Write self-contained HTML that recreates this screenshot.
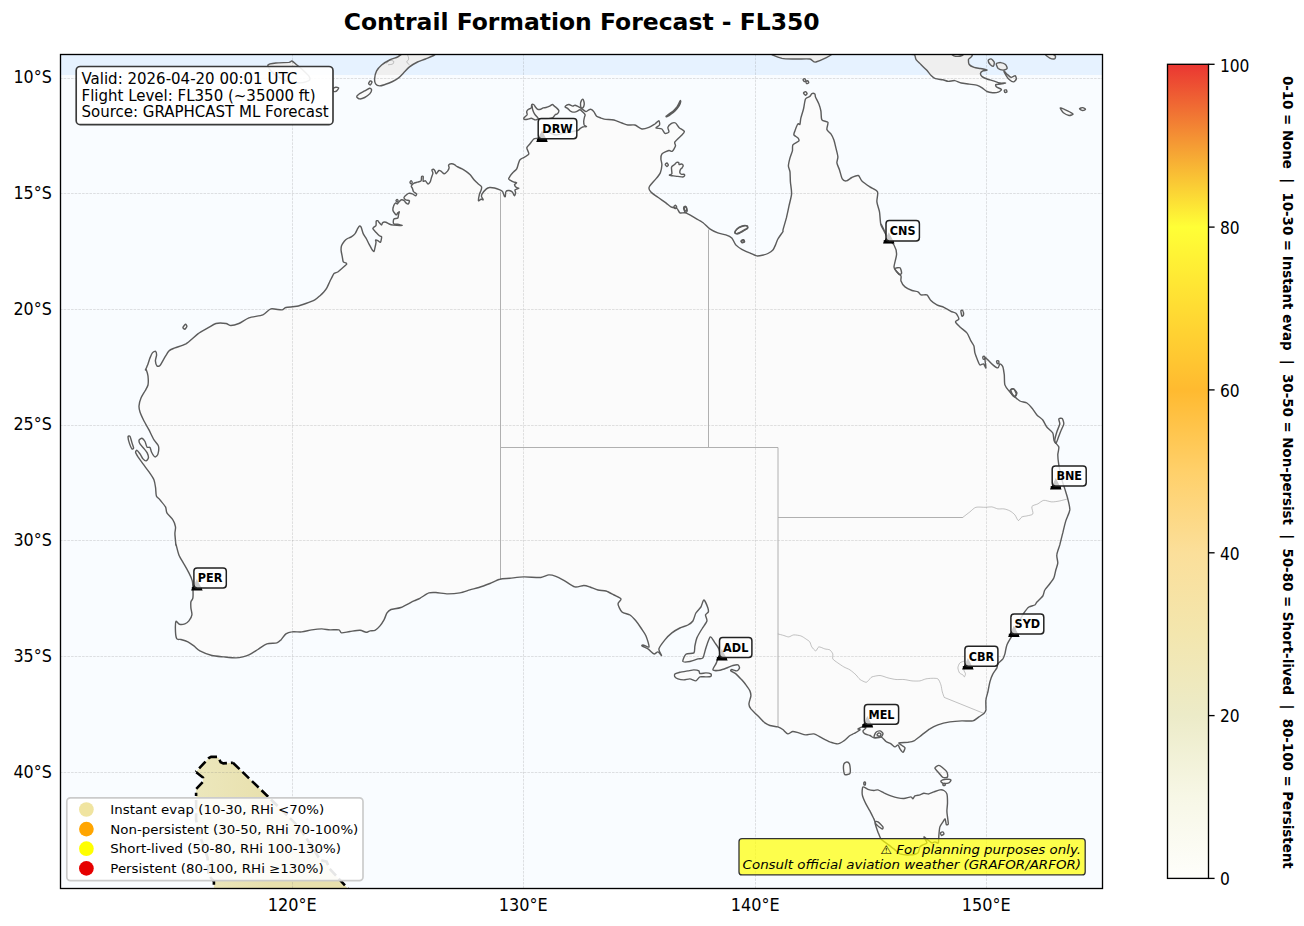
<!DOCTYPE html>
<html><head><meta charset="utf-8"><title>Contrail Formation Forecast - FL350</title>
<style>
html,body{margin:0;padding:0;background:#fff;}
body{width:1304px;height:926px;overflow:hidden;}
svg{display:block;}
text{font-family:"DejaVu Sans","Liberation Sans",sans-serif;fill:#000;}
</style></head><body>
<svg width="1304" height="926" viewBox="0 0 1304 926">
<defs>
<clipPath id="ax"><rect x="60.5" y="54.5" width="1042.0" height="834.0"/></clipPath>
<linearGradient id="cb" x1="0" y1="1" x2="0" y2="0">
<stop offset="0" stop-color="#fefefb"/>
<stop offset="0.10" stop-color="#f7f7e6"/>
<stop offset="0.20" stop-color="#ecebc8"/>
<stop offset="0.30" stop-color="#f3e6ae"/>
<stop offset="0.40" stop-color="#fbdf9a"/>
<stop offset="0.50" stop-color="#ffd06a"/>
<stop offset="0.60" stop-color="#ffba30"/>
<stop offset="0.70" stop-color="#ffdc33"/>
<stop offset="0.80" stop-color="#ffff36"/>
<stop offset="0.90" stop-color="#f59c34"/>
<stop offset="1" stop-color="#ea3632"/>
</linearGradient>
<linearGradient id="bg" gradientUnits="userSpaceOnUse" x1="196" y1="0" x2="270" y2="0">
<stop offset="0" stop-color="#ece7bc"/>
<stop offset="1" stop-color="#e8e0ad"/>
</linearGradient>
</defs>
<rect width="1304" height="926" fill="#fff"/>

<text x="581.7" y="29.9" font-size="23.48" font-weight="bold" text-anchor="middle">Contrail Formation Forecast - FL350</text>
<g clip-path="url(#ax)">
<rect x="60" y="54" width="1043" height="835" fill="#e6f2ff"/>
<path d="M374.6 78.9C374.7 77.3 375.7 72.6 376.6 70.9C377.5 69.2 380.0 66.4 381.6 65.0C383.2 63.6 387.6 61.0 389.6 60.0C391.6 59.0 395.7 57.8 397.6 57.0C399.5 56.2 399.8 54.0 404.5 53.6C409.2 53.2 432.8 52.9 435.4 53.6C438.0 54.3 427.7 58.0 425.5 59.0C423.3 60.0 419.5 61.0 417.5 62.0C415.5 63.0 411.2 65.5 409.5 66.9C407.8 68.3 404.9 71.5 403.5 72.9C402.1 74.3 400.0 76.8 398.6 77.9C397.2 79.0 394.2 80.7 392.6 81.5C391.0 82.3 387.2 83.8 385.6 84.3C384.0 84.8 380.9 86.0 379.6 85.9C378.4 85.9 376.2 84.8 375.6 83.9C375.0 83.0 374.5 80.5 374.6 78.9Z" fill="#efefef" stroke="none"/>
<path d="M356.7 96.9C356.6 96.3 357.7 95.0 358.7 94.3C359.7 93.5 363.3 91.7 364.7 90.9C366.1 90.2 368.7 88.4 369.6 88.3C370.5 88.2 371.6 89.2 371.6 89.9C371.6 90.6 370.5 93.0 369.6 93.9C368.7 94.9 365.9 96.9 364.7 97.5C363.5 98.1 360.7 99.0 359.7 98.9C358.7 98.8 356.8 97.5 356.7 96.9Z" fill="#efefef" stroke="none"/>
<path d="M368.6 83.5C368.6 83.0 369.8 81.1 370.2 80.9C370.6 80.7 372.0 81.4 372.0 81.9C372.0 82.4 370.8 84.7 370.4 84.9C370.0 85.1 368.6 84.0 368.6 83.5Z" fill="#efefef" stroke="none"/>
<path d="M267.9 65.0C268.4 63.9 273.3 63.3 275.9 63.0C278.5 62.7 286.9 62.6 288.9 62.4C290.9 62.1 290.9 60.7 291.9 61.0C292.9 61.3 295.5 63.9 296.9 65.0C298.3 66.1 301.3 68.5 302.8 69.9C304.3 71.3 307.9 74.7 308.8 75.9C309.7 77.2 310.2 79.2 309.8 79.9C309.4 80.7 307.0 81.5 305.8 81.9C304.6 82.3 301.9 82.9 299.9 82.9C297.9 82.9 292.4 82.5 289.9 81.9C287.4 81.3 282.1 79.2 279.9 77.9C277.6 76.7 273.4 73.5 271.9 71.9C270.4 70.3 267.4 66.1 267.9 65.0Z" fill="#efefef" stroke="none"/>
<path d="M332.8 88.9C333.1 88.4 335.0 87.4 335.7 87.3C336.4 87.2 338.6 87.5 338.7 87.9C338.8 88.4 337.3 90.5 336.7 90.9C336.1 91.4 334.2 91.8 333.7 91.5C333.2 91.2 332.6 89.4 332.8 88.9Z" fill="#efefef" stroke="none"/>
<path d="M773.0 53.0C766.9 53.7 779.1 57.6 782.0 58.4C784.9 59.1 792.4 58.9 795.9 59.0C799.4 59.1 807.4 58.6 809.9 59.0C812.4 59.4 813.3 62.8 815.9 62.0C818.5 61.2 836.3 54.1 830.9 53.0C825.5 51.9 779.1 52.3 773.0 53.0Z" fill="#efefef" stroke="none"/>
<path d="M909.7 54.0C902.9 54.1 913.7 54.1 914.5 54.8C915.3 55.5 915.3 58.5 916.1 59.7C916.9 60.9 919.6 63.2 920.9 64.5C922.2 65.8 925.3 68.7 926.6 70.1C927.9 71.5 930.3 74.7 931.4 75.8C932.5 76.9 934.0 78.2 935.4 78.7C936.8 79.2 941.1 79.5 942.7 79.8C944.3 80.1 946.8 81.3 948.3 81.4C949.8 81.5 953.2 80.4 954.8 80.6C956.4 80.8 959.4 82.6 961.2 83.0C963.0 83.4 967.2 83.8 969.2 84.1C971.2 84.4 975.7 84.9 977.3 85.4C978.9 85.9 980.9 87.0 982.1 87.8C983.3 88.6 985.7 90.9 987.0 91.5C988.3 92.1 991.2 92.6 992.6 92.7C994.0 92.8 997.1 92.6 998.2 92.2C999.3 91.8 1001.6 90.2 1001.4 89.5C1001.2 88.8 997.3 87.6 996.6 87.0C995.9 86.4 995.3 85.0 995.8 84.6C996.3 84.2 999.4 84.3 1000.6 84.1C1001.8 83.9 1005.6 83.1 1005.5 83.0C1005.4 82.9 1001.3 83.3 999.8 83.0C998.3 82.7 995.0 81.4 993.4 80.9C991.8 80.4 988.4 79.5 987.0 79.0C985.6 78.5 982.9 77.3 982.1 76.6C981.3 75.9 980.4 74.0 980.5 73.3C980.6 72.6 982.1 71.3 982.9 70.9C983.7 70.5 987.3 70.4 987.0 70.1C986.7 69.8 982.1 68.8 980.5 68.5C978.9 68.2 975.5 67.9 974.1 67.4C972.7 66.9 969.9 65.5 969.2 64.5C968.5 63.5 968.4 61.0 968.4 59.7C968.4 58.4 976.5 54.7 969.2 54.0C961.9 53.3 916.5 53.9 909.7 54.0Z" fill="#efefef" stroke="none"/>
<path d="M988.2 60.5C988.3 59.8 990.2 58.7 991.0 58.9C991.8 59.1 993.9 61.2 994.2 62.1C994.5 63.0 993.9 65.8 993.4 66.1C992.9 66.4 990.9 65.2 990.2 64.5C989.6 63.8 988.1 61.2 988.2 60.5Z" fill="#efefef" stroke="none"/>
<path d="M996.3 63.7C996.6 63.0 999.5 62.5 1000.6 62.6C1001.8 62.7 1004.7 63.8 1005.5 64.5C1006.3 65.2 1007.4 67.8 1007.1 68.5C1006.8 69.2 1004.2 70.1 1003.1 70.1C1002.0 70.1 999.1 69.3 998.2 68.5C997.4 67.7 996.0 64.4 996.3 63.7Z" fill="#efefef" stroke="none"/>
<path d="M1003.9 70.9C1004.0 70.7 1006.2 73.4 1007.1 74.2C1008.0 75.0 1010.1 77.2 1011.1 77.4C1012.1 77.6 1014.5 75.6 1015.1 75.8C1015.8 76.0 1016.5 78.2 1016.3 79.0C1016.1 79.8 1014.4 81.8 1013.5 81.9C1012.6 82.0 1010.4 80.6 1009.5 79.8C1008.6 79.0 1007.0 76.9 1006.3 75.8C1005.6 74.7 1003.8 71.1 1003.9 70.9Z" fill="#efefef" stroke="none"/>
<path d="M1004.3 90.3C1004.5 90.0 1006.0 89.7 1006.3 89.9C1006.6 90.1 1007.1 91.6 1006.9 91.9C1006.7 92.2 1005.3 92.7 1005.0 92.5C1004.7 92.3 1004.1 90.6 1004.3 90.3Z" fill="#efefef" stroke="none"/>
<path d="M1044.9 54.0C1044.6 54.5 1048.6 57.5 1049.8 58.1C1051.0 58.7 1053.9 59.1 1054.6 58.9C1055.3 58.6 1055.7 56.7 1055.4 56.1C1055.1 55.5 1053.5 54.3 1052.2 54.0C1050.9 53.7 1045.2 53.5 1044.9 54.0Z" fill="#efefef" stroke="none"/>
<path d="M1060.2 108.0C1060.3 107.6 1063.1 108.8 1064.3 109.3C1065.5 109.8 1068.8 111.4 1069.9 112.0C1071.0 112.6 1073.2 113.7 1073.1 114.1C1073.0 114.5 1070.3 115.7 1069.1 115.5C1067.9 115.3 1064.5 113.7 1063.4 112.8C1062.3 111.9 1060.1 108.4 1060.2 108.0Z" fill="#efefef" stroke="none"/>
<path d="M1079.5 108.8C1079.5 108.4 1082.0 107.5 1082.8 107.6C1083.5 107.7 1085.5 108.9 1085.5 109.3C1085.5 109.7 1083.5 110.6 1082.8 110.5C1082.0 110.4 1079.5 109.2 1079.5 108.8Z" fill="#efefef" stroke="none"/>
<path d="M952.3 54.0C951.1 54.2 953.2 55.5 953.9 55.8C954.6 56.1 957.0 56.4 958.0 56.4C959.0 56.4 961.4 55.8 962.0 55.5C962.6 55.2 964.3 54.2 963.1 54.0C961.9 53.8 953.4 53.8 952.3 54.0Z" fill="#efefef" stroke="none"/>
<path d="M175.9 545.1C175.8 543.8 175.0 536.2 174.9 533.9C174.8 531.6 175.8 528.6 175.5 526.9C175.2 525.1 174.0 521.6 172.9 519.9C171.8 518.1 167.8 514.5 166.9 512.9C166.0 511.3 166.4 508.5 165.5 506.9C164.6 505.3 161.1 501.3 160.0 499.9C158.9 498.5 157.0 497.4 156.4 495.9C155.8 494.4 155.9 489.9 155.6 487.9C155.3 485.9 154.8 481.9 154.0 479.9C153.2 477.9 150.4 473.9 149.0 471.9C147.6 469.9 144.4 465.8 143.0 463.9C141.6 462.0 138.9 458.3 138.0 456.9C137.1 455.4 135.7 453.1 135.6 452.3C135.5 451.5 136.4 450.1 137.0 450.3C137.6 450.5 139.2 452.8 140.0 453.9C140.8 455.0 142.2 458.0 143.0 458.9C143.8 459.8 145.3 461.0 146.0 460.9C146.7 460.8 148.2 458.9 148.4 457.9C148.6 456.9 147.7 454.0 147.2 452.9C146.7 451.8 145.3 450.2 144.4 449.1C143.5 448.0 140.7 445.0 140.0 443.9C139.3 442.8 138.9 440.6 139.2 439.9C139.4 439.2 141.3 438.1 142.0 438.3C142.7 438.5 144.4 440.4 145.0 441.5C145.6 442.6 146.4 446.4 147.0 447.1C147.6 447.9 149.4 446.9 150.0 447.5C150.6 448.1 151.0 451.1 151.6 452.3C152.2 453.5 154.2 456.7 155.0 456.9C155.8 457.1 157.6 455.3 158.0 453.9C158.4 452.5 158.9 447.6 158.4 445.9C157.9 444.1 155.2 441.9 154.0 439.9C152.8 437.9 150.2 432.3 149.0 429.9C147.8 427.5 145.1 423.2 144.0 421.0C142.9 418.8 140.6 413.9 140.0 412.0C139.4 410.1 138.9 407.8 139.0 406.0C139.1 404.2 140.2 399.9 141.0 398.0C141.8 396.1 144.1 392.6 145.0 391.0C145.9 389.4 147.6 386.9 148.0 385.0C148.4 383.1 148.2 378.0 148.0 376.0C147.8 374.0 146.3 369.8 146.0 369.0C145.7 368.2 145.3 370.5 145.6 369.9C145.8 369.3 147.4 365.4 148.0 363.9C148.6 362.4 149.4 359.3 150.0 357.9C150.6 356.5 151.7 353.7 152.4 352.9C153.1 352.1 155.1 351.1 155.6 351.3C156.1 351.6 156.6 353.7 156.6 354.9C156.6 356.1 155.3 359.5 155.4 360.9C155.5 362.3 156.4 365.3 157.0 365.9C157.6 366.5 159.1 366.4 160.0 365.5C160.9 364.6 162.8 360.7 163.9 358.9C165.0 357.1 167.5 352.3 168.9 350.9C170.3 349.5 172.8 348.8 174.9 347.9C177.0 347.0 183.0 345.6 185.9 343.9C188.8 342.1 195.2 335.9 197.9 333.9C200.7 331.9 205.7 329.2 207.9 327.9C210.2 326.6 213.7 324.1 215.9 323.5C218.2 322.9 224.0 323.2 225.9 323.5C227.8 323.8 229.3 325.5 230.9 325.5C232.5 325.5 236.7 324.4 238.9 323.5C241.2 322.6 245.9 319.0 248.9 317.9C251.9 316.8 260.1 316.0 262.9 314.9C265.6 313.8 268.5 309.5 270.9 308.9C273.3 308.3 280.0 310.1 281.9 309.9C283.8 309.7 284.0 307.9 285.9 307.5C287.8 307.1 294.3 306.8 296.8 306.3C299.3 305.8 303.6 304.3 305.8 303.5C308.1 302.7 313.0 300.9 314.8 299.9C316.6 298.9 318.9 296.7 320.0 295.7C321.1 294.7 322.9 293.0 323.8 292.0C324.7 291.0 326.3 288.9 327.0 287.6C327.7 286.3 329.1 283.0 329.7 281.7C330.3 280.4 331.4 278.4 331.9 277.4C332.4 276.4 333.3 274.3 334.0 273.6C334.7 272.9 336.9 272.6 337.8 272.0C338.8 271.4 340.5 269.6 341.6 268.7C342.7 267.8 346.0 265.1 346.5 264.4C347.0 263.7 346.1 263.1 345.7 262.8C345.3 262.5 343.6 262.6 343.2 261.7C342.8 260.8 342.4 257.2 342.1 255.8C341.8 254.4 341.2 251.7 341.1 250.4C341.0 249.1 341.2 246.7 341.6 245.5C342.0 244.3 343.6 242.1 344.3 241.2C345.0 240.3 346.6 239.0 347.5 238.5C348.4 238.0 350.4 237.5 351.3 236.9C352.2 236.3 354.4 234.5 355.1 233.6C355.9 232.7 356.8 230.2 357.3 229.3C357.8 228.4 358.9 226.4 359.4 226.1C359.9 225.8 360.6 226.2 361.1 227.1C361.6 228.0 362.5 232.1 363.2 233.6C363.9 235.1 365.8 237.7 366.5 239.0C367.2 240.3 368.5 243.1 369.2 244.4C369.9 245.7 371.3 248.4 371.9 249.3C372.5 250.2 373.6 251.8 374.0 251.5C374.4 251.2 374.9 248.2 375.1 247.1C375.4 245.9 375.9 243.2 376.0 242.3C376.1 241.4 375.4 240.3 375.6 240.1C375.8 239.9 377.2 240.3 377.8 240.6C378.4 240.9 380.0 242.8 380.5 242.3C381.0 241.8 381.7 237.7 381.6 236.9C381.5 236.1 380.1 236.4 379.4 235.8C378.7 235.2 377.0 233.4 376.2 232.5C375.4 231.6 373.2 229.5 372.9 228.8C372.6 228.1 373.6 227.5 374.0 227.1C374.4 226.7 375.7 226.2 376.0 225.5C376.3 224.8 376.0 221.8 376.2 221.2C376.4 220.6 377.4 220.5 377.8 220.7C378.2 220.9 378.9 222.3 379.4 222.8C379.9 223.3 381.2 225.0 381.6 225.0C382.0 225.0 382.2 222.9 382.7 222.6C383.2 222.2 385.1 222.0 385.9 222.2C386.7 222.4 388.2 223.6 389.2 224.0C390.1 224.4 391.9 224.9 393.5 225.1C395.1 225.3 401.6 225.5 402.1 225.4C402.6 225.3 398.4 224.5 397.3 224.3C396.2 224.1 393.9 224.2 393.5 223.5C393.1 222.8 393.3 219.8 393.8 219.1C394.3 218.4 397.2 218.7 397.8 218.1C398.4 217.5 398.4 215.1 398.6 214.3C398.8 213.5 399.5 212.0 399.4 211.8C399.3 211.6 398.2 212.3 397.8 212.7C397.4 213.1 396.8 215.1 396.2 214.8C395.6 214.5 393.3 211.6 393.0 210.5C392.7 209.4 393.2 207.1 393.5 206.2C393.8 205.2 395.2 203.2 395.7 202.9C396.2 202.6 396.9 204.1 397.3 204.0C397.7 203.9 398.4 202.4 398.9 201.9C399.4 201.4 400.9 199.8 401.6 199.7C402.3 199.6 403.8 200.4 404.3 200.8C404.8 201.2 405.4 202.5 405.9 202.9C406.4 203.3 407.9 204.3 408.3 204.0C408.7 203.7 409.7 201.3 409.4 200.8C409.1 200.3 406.6 200.3 405.9 199.9C405.2 199.5 403.9 198.1 404.0 197.5C404.1 196.9 405.9 195.3 406.5 194.8C407.1 194.3 407.9 193.5 408.6 193.4C409.3 193.3 411.5 193.5 412.4 193.8C413.3 194.1 415.1 195.9 415.6 195.9C416.1 195.9 416.8 194.3 416.5 193.8C416.2 193.3 414.0 192.3 413.5 191.6C413.0 190.9 412.7 189.0 412.4 188.3C412.1 187.6 411.2 186.8 411.3 186.2C411.4 185.6 412.8 184.0 413.5 183.5C414.2 183.0 416.4 182.5 417.3 182.2C418.2 181.9 420.6 181.5 421.1 180.8C421.6 180.1 421.3 177.0 421.6 176.5C421.9 176.0 423.0 175.9 423.2 176.5C423.4 177.1 422.9 180.8 423.2 181.3C423.5 181.8 424.8 180.5 425.4 180.8C426.0 181.1 427.5 183.9 428.1 184.0C428.7 184.1 429.8 182.6 430.2 181.9C430.6 181.2 431.0 179.2 431.3 178.1C431.6 177.0 432.8 174.2 432.9 173.2C433.0 172.2 431.8 170.5 431.9 170.0C432.0 169.5 433.1 169.1 433.5 169.2C433.9 169.3 434.8 170.5 435.1 171.1C435.4 171.7 435.7 173.9 436.2 173.8C436.7 173.7 438.3 170.8 438.9 170.5C439.5 170.2 440.3 170.7 441.0 171.1C441.7 171.5 443.5 173.8 444.3 173.8C445.1 173.8 446.9 171.8 447.5 171.1C448.1 170.3 449.0 168.6 449.1 167.8C449.2 167.1 448.3 165.6 448.6 165.1C448.9 164.6 450.6 163.9 451.3 163.8C452.0 163.7 453.8 164.2 454.5 164.6C455.2 165.0 456.2 166.2 457.2 166.7C458.1 167.2 461.0 168.3 462.1 168.9C463.2 169.5 465.4 170.9 466.4 171.6C467.4 172.3 469.2 173.8 470.2 174.8C471.1 175.8 473.1 178.6 474.0 179.7C474.9 180.8 476.9 182.6 477.8 183.5C478.7 184.4 481.1 185.8 481.5 186.7C481.9 187.6 481.3 189.6 481.0 190.5C480.7 191.4 479.7 193.0 479.4 194.3C479.1 195.6 478.3 200.2 478.5 200.8C478.7 201.4 480.4 199.3 481.0 199.2C481.6 199.1 483.1 200.0 483.2 199.7C483.3 199.4 481.6 197.2 481.5 196.5C481.4 195.8 481.5 194.8 482.1 193.8C482.7 192.9 485.5 189.7 486.4 188.9C487.3 188.1 488.6 187.6 489.6 187.5C490.6 187.4 493.2 187.7 494.5 188.0C495.8 188.3 498.9 189.4 499.9 189.8C500.9 190.2 502.1 190.8 502.6 191.6C503.1 192.4 503.9 195.3 504.2 195.9C504.5 196.5 505.1 197.0 505.3 196.5C505.5 196.0 505.4 192.3 505.9 191.6C506.4 190.8 508.3 190.4 509.1 190.5C509.9 190.6 511.6 191.4 512.3 192.1C513.0 192.8 514.1 195.8 514.5 195.9C514.9 196.0 515.5 193.4 515.6 192.7C515.7 192.0 514.6 190.6 515.0 190.0C515.4 189.4 518.7 188.6 518.8 188.3C518.9 188.0 516.6 187.8 516.1 187.3C515.6 186.8 514.4 185.2 514.5 184.6C514.6 184.0 516.8 183.2 516.7 182.9C516.6 182.6 514.1 182.2 513.4 181.9C512.7 181.6 511.9 181.2 511.3 180.8C510.7 180.4 508.7 179.6 508.6 179.0C508.5 178.4 509.6 176.8 510.2 175.9C510.8 175.0 512.6 173.0 513.4 172.1C514.2 171.2 516.1 169.9 516.7 168.9C517.3 167.9 517.9 165.2 518.3 164.0C518.7 162.8 519.4 160.4 520.0 159.7C520.6 158.9 521.7 158.7 522.8 158.0C523.9 157.3 528.3 155.2 528.8 154.0C529.3 152.8 526.7 149.2 526.8 148.0C526.9 146.8 528.9 145.1 529.8 144.0C530.7 142.9 532.8 139.8 533.8 139.0C534.8 138.2 537.0 138.5 537.8 138.0C538.6 137.5 538.9 135.8 540.0 135.0C541.1 134.2 545.0 132.0 547.0 132.0C549.0 132.0 553.9 134.9 556.0 135.0C558.1 135.1 561.3 133.6 564.0 133.0C566.7 132.4 575.7 131.1 577.7 130.5C579.7 129.9 579.3 129.1 580.0 128.6C580.7 128.1 582.5 127.0 583.3 126.8C584.1 126.5 586.4 126.8 586.5 126.6C586.6 126.4 584.6 125.7 584.2 125.0C583.9 124.3 583.7 122.3 583.7 121.3C583.8 120.3 584.4 117.5 584.6 116.7C584.8 115.9 585.3 115.4 585.1 114.8C584.9 114.2 583.4 112.7 582.8 112.1C582.2 111.5 580.8 109.9 580.0 109.8C579.2 109.7 577.3 111.3 576.4 111.6C575.5 111.9 573.5 112.2 572.7 112.1C571.9 112.0 570.5 111.2 569.9 110.7C569.3 110.2 568.2 108.9 567.6 108.4C567.0 107.9 565.2 107.4 565.1 107.0C565.0 106.6 566.2 105.5 566.7 105.2C567.2 104.9 568.2 104.4 569.0 104.5C569.8 104.6 572.0 106.0 572.7 106.1C573.5 106.2 574.3 105.1 575.0 105.2C575.7 105.3 577.5 106.3 578.2 106.6C578.9 106.9 579.9 107.5 580.5 107.9C581.1 108.3 582.6 109.3 583.3 109.8C584.0 110.3 585.3 111.6 586.0 111.6C586.7 111.6 588.2 110.1 588.8 109.8C589.4 109.5 590.5 109.1 591.1 109.3C591.7 109.5 593.1 110.7 593.8 111.6C594.5 112.5 595.7 115.4 596.6 116.2C597.5 117.0 600.1 117.7 601.2 118.1C602.4 118.5 604.2 119.2 605.8 119.4C607.4 119.6 611.9 119.5 613.9 120.0C615.9 120.5 620.1 122.4 621.9 123.0C623.6 123.6 626.3 124.8 627.9 125.0C629.5 125.2 633.1 124.5 634.9 125.0C636.6 125.5 640.1 128.7 641.9 129.0C643.6 129.3 647.3 128.0 648.9 127.4C650.5 126.8 653.6 124.8 654.9 124.0C656.1 123.2 658.3 120.5 658.9 120.6C659.5 120.7 659.9 124.1 659.5 125.0C659.1 125.9 655.6 127.5 655.9 128.0C656.2 128.5 660.8 128.3 661.9 129.0C663.0 129.7 664.0 133.0 664.9 133.4C665.8 133.8 668.5 132.8 668.9 132.0C669.3 131.2 667.6 128.5 667.9 127.4C668.2 126.3 670.5 124.0 671.5 123.4C672.5 122.9 674.6 122.5 675.5 123.0C676.4 123.5 677.8 126.4 678.9 127.4C680.0 128.5 683.9 130.5 684.3 131.4C684.7 132.3 683.1 133.7 681.9 135.0C680.7 136.3 675.7 140.5 674.9 141.9C674.1 143.3 675.8 144.7 675.5 145.9C675.2 147.1 673.1 150.7 672.3 151.3C671.5 151.9 670.2 150.2 668.9 150.5C667.6 150.8 662.9 152.8 661.9 153.9C660.9 155.0 660.9 157.5 660.9 158.9C660.9 160.3 662.0 163.2 661.9 164.9C661.8 166.7 661.0 171.2 660.3 172.9C659.5 174.7 657.1 177.5 655.9 178.9C654.7 180.3 651.8 183.4 650.9 184.5C650.0 185.6 648.9 187.0 648.9 187.9C648.9 188.8 649.8 190.7 650.9 191.9C652.0 193.1 656.0 195.9 657.9 197.3C659.8 198.7 664.3 201.7 665.9 202.9C667.5 204.1 669.5 206.2 670.9 206.9C672.3 207.6 675.8 207.8 676.9 208.5C678.0 209.2 678.8 212.3 679.9 212.9C681.0 213.5 684.0 212.3 685.9 212.9C687.8 213.5 692.8 216.7 694.9 217.9C697.0 219.1 700.9 221.1 702.8 222.5C704.7 223.9 707.9 227.6 709.8 228.9C711.7 230.2 715.8 232.2 717.8 232.9C719.8 233.7 724.0 234.3 725.8 234.9C727.5 235.5 730.5 236.7 731.8 237.9C733.0 239.2 734.5 243.5 735.8 244.9C737.0 246.3 740.0 248.3 741.8 249.3C743.5 250.3 747.9 252.1 749.8 252.9C751.7 253.7 755.0 255.7 756.8 255.9C758.5 256.1 762.4 255.2 763.8 254.9C765.2 254.6 766.8 254.1 767.9 253.5C769.0 252.9 771.9 251.0 772.9 249.9C773.9 248.8 774.9 246.3 775.5 244.9C776.1 243.5 777.0 240.7 777.9 239.0C778.8 237.3 782.3 232.7 782.9 231.6C783.5 230.5 782.6 231.6 783.0 229.9C783.4 228.2 785.6 220.9 786.4 217.9C787.1 214.9 788.4 208.9 789.0 205.9C789.6 202.9 791.4 196.9 791.6 193.9C791.8 190.9 790.6 184.7 790.4 181.9C790.2 179.2 790.2 173.9 790.0 171.9C789.8 169.9 788.4 167.7 788.4 165.9C788.4 164.2 789.5 159.8 790.0 157.9C790.5 156.0 792.0 152.5 792.4 150.9C792.8 149.3 792.1 146.2 792.9 144.9C793.7 143.7 798.3 141.8 798.9 140.9C799.5 140.0 798.5 138.7 797.9 137.9C797.3 137.2 794.3 135.8 793.9 134.9C793.5 134.0 794.4 132.3 794.9 130.9C795.4 129.5 797.3 124.7 797.9 123.9C798.5 123.1 799.5 125.0 799.9 124.3C800.3 123.5 800.4 119.8 800.9 117.9C801.4 116.0 802.9 111.4 803.5 109.0C804.1 106.6 804.7 100.6 805.5 99.0C806.3 97.4 809.1 97.1 809.9 96.4C810.7 95.7 811.3 93.9 811.9 93.6C812.5 93.3 814.4 93.6 814.9 94.0C815.4 94.4 815.0 95.8 815.5 97.0C816.0 98.2 818.2 102.2 818.9 104.0C819.6 105.8 820.5 109.0 820.9 111.0C821.3 113.0 821.0 118.5 821.9 119.9C822.8 121.3 827.3 121.1 827.9 122.3C828.5 123.5 826.5 128.1 826.9 129.5C827.3 130.9 830.0 132.6 830.9 133.9C831.8 135.2 833.3 138.2 833.9 139.9C834.5 141.7 835.4 145.8 835.9 147.9C836.4 150.0 837.8 155.0 837.9 156.9C838.0 158.8 836.7 161.3 836.9 162.9C837.1 164.5 838.8 167.9 839.5 169.9C840.2 171.9 841.4 177.5 842.3 178.9C843.1 180.3 845.1 181.1 846.3 180.9C847.5 180.7 850.4 178.2 851.9 177.5C853.4 176.8 857.0 175.1 858.3 175.5C859.5 175.9 860.4 179.5 861.9 180.9C863.4 182.3 867.9 185.5 869.9 186.9C871.9 188.3 876.6 190.0 877.5 191.9C878.4 193.8 876.6 199.4 876.9 201.9C877.1 204.4 879.0 209.0 879.5 211.9C880.0 214.8 880.2 222.4 880.9 224.9C881.6 227.4 884.9 232.0 884.9 231.9C884.9 231.8 881.0 223.9 881.0 224.0C881.0 224.1 884.0 231.0 885.0 233.0C886.0 235.0 887.9 238.5 889.0 240.0C890.1 241.5 893.0 243.2 894.0 245.0C895.0 246.8 896.6 251.2 896.6 254.0C896.6 256.8 894.0 264.8 894.0 267.0C894.0 269.2 896.1 270.9 897.0 272.0C897.9 273.1 900.5 274.9 901.0 276.0C901.5 277.1 900.5 279.5 901.0 280.9C901.5 282.3 903.6 285.7 905.0 286.9C906.4 288.1 910.4 289.9 912.0 290.5C913.6 291.1 916.9 291.3 918.0 291.9C919.1 292.4 919.9 294.5 921.0 294.9C922.1 295.3 925.7 294.2 926.9 294.9C928.1 295.6 929.6 299.2 930.9 300.5C932.1 301.8 935.3 304.0 936.9 304.9C938.5 305.8 942.1 306.5 943.9 307.3C945.6 308.1 949.4 310.6 950.9 311.3C952.4 312.1 954.9 312.4 955.9 313.3C956.9 314.2 958.9 317.8 958.9 318.9C958.9 320.0 955.4 320.9 955.5 321.9C955.6 322.9 958.5 325.5 959.9 326.9C961.3 328.3 965.5 331.1 966.9 332.9C968.3 334.6 970.0 339.3 970.9 340.9C971.8 342.5 973.4 344.4 973.9 345.9C974.4 347.4 974.4 351.0 974.9 352.9C975.4 354.8 977.3 359.4 977.9 360.9C978.5 362.4 979.2 364.5 979.9 364.9C980.6 365.3 982.8 363.5 983.5 363.9C984.2 364.3 985.7 368.6 985.9 367.9C986.1 367.1 984.6 358.9 984.9 357.9C985.1 356.9 986.9 359.0 987.9 359.9C988.9 360.8 991.6 363.9 992.9 364.9C994.1 365.9 997.0 368.0 997.9 367.9C998.8 367.8 999.3 364.0 999.9 363.9C1000.5 363.8 1002.4 365.5 1002.9 366.9C1003.4 368.3 1004.0 372.6 1004.3 374.9C1004.5 377.1 1004.3 382.9 1004.9 384.9C1005.5 386.9 1007.6 389.4 1008.9 390.9C1010.1 392.4 1014.3 396.3 1014.9 396.9C1015.5 397.5 1013.3 395.5 1013.9 396.0C1014.5 396.5 1018.3 400.1 1019.9 401.0C1021.5 401.9 1025.4 402.1 1026.9 403.0C1028.4 403.9 1030.7 406.5 1031.9 408.0C1033.2 409.5 1035.5 413.5 1036.9 415.0C1038.3 416.5 1041.6 418.5 1042.8 420.0C1044.0 421.5 1045.5 425.4 1046.8 427.0C1048.0 428.6 1051.9 431.2 1052.8 433.0C1053.7 434.8 1053.5 439.2 1054.2 441.0C1055.0 442.8 1058.3 445.3 1058.8 447.0C1059.2 448.7 1057.8 452.7 1057.8 454.9C1057.8 457.1 1058.4 462.4 1058.8 464.9C1059.2 467.4 1060.3 472.6 1060.8 474.9C1061.3 477.1 1062.3 481.1 1062.8 482.9C1063.3 484.6 1064.2 486.9 1064.8 488.9C1065.4 490.9 1067.2 496.3 1067.8 498.9C1068.4 501.5 1070.0 507.1 1069.8 509.9C1069.5 512.6 1066.7 518.0 1065.8 520.9C1064.9 523.8 1063.5 529.9 1062.8 532.9C1062.0 535.9 1060.5 542.1 1059.8 544.9C1059.0 547.6 1057.0 552.6 1056.8 554.9C1056.5 557.1 1057.9 561.0 1057.8 562.9C1057.7 564.8 1056.3 568.1 1055.8 570.0C1055.3 571.9 1054.7 576.1 1053.8 578.0C1052.9 579.9 1049.9 583.5 1048.8 585.0C1047.7 586.5 1045.5 588.6 1044.8 590.0C1044.0 591.4 1043.8 594.5 1042.8 596.0C1041.8 597.5 1037.9 600.9 1036.9 602.0C1035.9 603.1 1035.9 604.4 1034.9 605.0C1033.9 605.6 1030.3 606.0 1028.9 607.0C1027.5 608.0 1025.0 611.4 1023.9 613.0C1022.8 614.6 1020.9 618.1 1019.9 620.0C1018.9 621.9 1016.9 626.0 1015.9 628.0C1014.9 630.0 1013.0 633.8 1011.9 635.9C1010.8 638.0 1007.8 642.6 1006.9 644.9C1006.0 647.1 1005.4 652.1 1004.9 653.9C1004.4 655.6 1003.8 657.6 1002.9 658.9C1002.0 660.1 998.6 662.8 997.9 663.9C997.1 665.0 997.5 666.6 996.9 667.9C996.3 669.1 993.8 672.1 992.9 673.9C992.0 675.6 990.5 679.6 989.9 681.9C989.3 684.1 988.4 689.6 987.9 691.9C987.4 694.1 986.1 697.6 985.9 699.9C985.6 702.1 986.1 708.2 985.9 709.9C985.6 711.6 984.8 712.6 983.9 713.5C983.0 714.4 980.3 716.0 978.9 716.9C977.5 717.8 975.0 720.4 972.9 720.9C970.8 721.4 964.8 720.8 961.9 720.9C959.0 721.0 952.9 721.4 949.9 721.9C946.9 722.4 940.4 724.0 937.9 724.9C935.4 725.8 931.9 727.6 929.9 728.9C927.9 730.1 923.9 733.4 921.9 734.9C919.9 736.4 915.6 740.0 913.9 740.9C912.2 741.8 909.9 742.0 908.0 742.3C906.1 742.5 899.8 742.5 899.0 742.9C898.2 743.3 901.2 744.9 902.0 745.5C902.8 746.1 904.9 747.0 905.0 747.9C905.1 748.8 903.6 752.2 903.0 752.3C902.4 752.4 900.6 749.8 900.0 748.9C899.4 748.0 898.6 745.1 898.0 744.9C897.4 744.6 895.9 747.0 895.0 746.9C894.1 746.8 892.1 744.6 891.0 743.9C889.9 743.2 887.2 742.4 886.0 741.5C884.8 740.6 882.5 737.4 881.0 736.9C879.5 736.4 875.4 738.1 874.0 737.9C872.6 737.7 871.1 736.0 870.0 735.5C868.9 735.0 865.9 734.5 865.0 733.9C864.1 733.3 862.9 731.6 863.0 730.9C863.1 730.1 866.1 728.4 866.0 727.9C865.9 727.4 863.4 726.8 862.4 726.9C861.4 727.0 858.3 728.5 858.0 728.9C857.7 729.3 860.5 729.3 860.0 729.9C859.5 730.5 855.2 732.8 854.0 733.5C852.8 734.2 851.3 734.6 850.0 735.5C848.7 736.4 845.3 739.9 843.8 740.9C842.3 741.9 839.5 743.8 837.8 743.9C836.0 744.0 831.8 742.6 829.8 741.9C827.8 741.1 823.8 738.9 821.8 737.9C819.8 736.9 815.8 734.3 813.8 733.9C811.8 733.5 807.7 735.0 805.8 734.9C803.9 734.8 800.4 733.3 798.8 732.9C797.2 732.5 794.2 731.4 792.8 731.5C791.4 731.6 789.0 734.1 787.8 733.9C786.5 733.6 784.0 730.4 782.8 729.5C781.5 728.6 779.4 727.4 777.8 726.9C776.2 726.4 771.5 726.0 769.9 725.5C768.3 725.0 766.0 723.7 764.9 722.9C763.8 722.1 762.0 720.0 760.9 718.9C759.8 717.8 757.1 715.1 755.9 713.9C754.6 712.6 751.8 710.1 750.9 708.9C750.0 707.6 748.9 705.5 748.9 703.9C748.9 702.3 750.8 697.5 750.9 695.9C751.0 694.3 750.5 692.3 749.9 690.9C749.3 689.5 747.0 686.4 745.9 684.9C744.8 683.4 742.1 680.3 740.9 678.9C739.6 677.5 737.1 674.9 735.9 673.9C734.6 672.9 731.4 671.4 730.9 670.9C730.4 670.4 731.1 669.5 731.9 669.5C732.6 669.5 735.9 671.1 736.9 670.9C737.9 670.7 739.4 668.6 739.5 667.9C739.6 667.1 738.7 665.2 737.9 664.9C737.1 664.6 734.1 665.2 732.9 665.5C731.6 665.8 729.5 666.9 727.9 667.5C726.3 668.1 721.8 670.0 719.9 670.3C718.0 670.6 713.4 670.7 712.9 669.9C712.4 669.1 715.3 665.3 715.9 663.9C716.5 662.5 717.4 659.9 717.9 658.9C718.4 657.9 719.8 657.1 719.9 655.9C720.0 654.6 719.5 650.5 718.9 648.9C718.3 647.3 716.0 644.4 714.9 642.9C713.8 641.4 711.4 636.3 710.3 636.9C709.2 637.5 706.8 645.3 705.9 647.9C705.0 650.5 703.9 656.5 702.9 657.9C701.9 659.3 699.5 658.4 697.9 658.9C696.3 659.4 691.8 661.2 689.9 661.5C688.0 661.8 683.4 662.4 682.9 661.5C682.4 660.6 684.5 655.4 685.9 654.3C687.3 653.2 692.8 653.9 693.9 652.9C695.0 651.9 694.5 647.8 694.9 645.9C695.3 644.0 696.0 640.0 696.9 637.9C697.8 635.8 700.6 631.1 701.9 629.0C703.1 626.9 706.4 622.8 706.9 621.0C707.4 619.2 705.3 616.1 705.5 615.0C705.7 613.9 708.0 612.9 708.3 612.0C708.6 611.1 708.4 609.5 707.9 608.0C707.4 606.5 704.8 600.1 703.9 600.0C703.0 599.9 701.9 605.4 700.9 607.0C699.9 608.6 696.9 611.2 695.9 613.0C694.9 614.8 693.9 619.5 692.9 621.0C691.9 622.5 689.5 624.1 687.9 625.0C686.3 625.9 681.9 627.0 679.9 628.0C677.9 629.0 673.8 631.4 671.9 632.9C670.0 634.4 666.5 637.9 664.9 639.9C663.3 641.9 659.3 646.9 658.9 648.9C658.5 650.9 661.6 655.1 661.5 655.5C661.4 655.9 658.9 652.1 657.9 651.9C656.9 651.7 655.1 654.3 653.9 653.9C652.7 653.5 649.5 649.9 648.0 648.9C646.5 647.9 642.6 646.4 642.0 645.9C641.4 645.4 642.1 644.8 643.0 644.9C643.9 645.0 648.6 648.0 649.0 646.9C649.4 645.8 647.0 638.3 646.0 635.9C645.0 633.5 642.2 629.9 641.0 628.0C639.8 626.1 637.4 622.6 636.0 621.0C634.6 619.4 631.8 616.1 630.0 615.0C628.2 613.9 623.5 613.4 622.0 612.0C620.5 610.6 618.1 605.6 618.0 604.0C617.9 602.4 621.5 600.1 621.0 599.0C620.5 597.9 615.9 596.0 614.0 595.0C612.1 594.0 608.0 591.6 606.0 591.0C604.0 590.4 600.0 590.5 598.0 590.0C596.0 589.5 591.8 587.6 590.0 587.0C588.2 586.4 585.7 585.5 583.8 585.5C581.9 585.5 577.3 587.5 574.8 586.9C572.3 586.2 566.2 581.6 563.8 580.3C561.4 579.0 557.7 577.0 555.8 576.3C553.9 575.6 550.7 574.8 548.8 574.9C546.9 575.0 543.9 577.2 540.8 577.5C537.7 577.8 527.7 576.8 523.8 576.9C519.9 577.0 512.9 578.0 509.9 578.3C506.9 578.6 502.4 578.6 499.9 579.3C497.4 579.9 492.5 582.5 489.9 583.5C487.3 584.5 481.4 586.7 478.9 587.5C476.4 588.3 472.3 589.2 469.9 589.9C467.5 590.6 462.6 592.4 459.9 592.9C457.1 593.4 450.9 593.9 447.9 593.9C444.9 593.9 438.3 592.6 435.9 592.5C433.5 592.4 430.9 592.2 428.9 592.9C426.9 593.6 421.8 597.3 419.9 598.3C418.0 599.3 416.3 599.8 413.9 600.9C411.5 602.0 403.8 606.4 400.9 607.5C398.0 608.6 392.7 608.8 391.0 609.5C389.3 610.2 387.9 611.6 387.0 612.9C386.1 614.2 384.9 618.3 384.0 619.9C383.1 621.5 381.1 624.6 380.0 625.9C378.9 627.2 376.2 629.7 375.0 630.3C373.8 630.9 371.1 630.6 370.0 630.9C368.9 631.1 367.2 632.4 366.0 632.3C364.8 632.2 362.0 630.4 360.0 630.3C358.0 630.2 352.3 631.2 350.0 631.5C347.7 631.8 343.0 633.1 341.6 632.9C340.2 632.7 340.4 630.3 339.0 629.9C337.6 629.5 332.1 630.0 330.0 629.9C327.9 629.8 324.1 628.9 321.8 628.9C319.5 628.9 314.3 629.5 311.8 629.9C309.3 630.3 304.3 631.6 301.8 631.9C299.3 632.1 293.8 631.6 291.8 631.9C289.8 632.1 287.3 632.9 285.9 633.9C284.5 634.9 282.0 638.8 280.9 639.9C279.8 641.0 278.6 642.4 276.9 642.9C275.1 643.4 269.3 643.1 266.9 643.9C264.5 644.7 260.1 648.1 257.9 649.5C255.6 650.9 250.8 654.0 248.9 654.9C247.0 655.8 244.5 656.5 242.9 656.9C241.3 657.3 238.3 657.9 235.9 657.9C233.5 657.9 226.9 657.2 223.9 656.9C220.9 656.6 214.9 656.2 211.9 655.5C208.9 654.8 202.2 652.1 199.9 650.9C197.7 649.7 195.4 647.0 193.9 645.9C192.4 644.8 189.5 642.7 187.9 641.9C186.3 641.1 182.3 639.9 180.9 639.5C179.5 639.1 177.6 639.9 176.9 638.9C176.2 637.9 175.6 634.1 175.5 631.9C175.4 629.7 175.4 622.5 175.9 621.5C176.4 620.5 178.4 624.0 179.5 624.3C180.6 624.6 183.7 624.3 184.9 623.9C186.1 623.5 188.0 622.0 188.9 620.9C189.8 619.8 191.7 616.5 191.9 614.9C192.2 613.3 191.0 609.5 190.9 607.9C190.8 606.3 190.7 603.1 190.9 601.9C191.2 600.6 192.7 599.6 192.9 597.9C193.2 596.1 193.0 590.0 192.9 587.9C192.8 585.8 192.8 582.8 192.3 580.9C191.8 579.0 190.0 575.0 188.9 572.9C187.8 570.8 185.2 566.1 183.9 563.9C182.7 561.7 179.9 557.5 178.9 555.0C177.9 552.5 176.3 545.2 175.9 544.0C175.5 542.8 176.0 546.4 175.9 545.1Z" fill="#f0f0f0"/>
<path d="M182.9 327.5C183.0 326.9 185.0 324.4 185.5 324.3C186.0 324.2 187.0 325.7 186.9 326.3C186.8 326.9 185.4 329.2 184.9 329.3C184.4 329.4 182.8 328.1 182.9 327.5Z" fill="#f0f0f0"/>
<path d="M128.0 436.9C128.1 435.9 129.5 435.6 130.0 436.3C130.5 437.1 131.6 441.4 132.0 442.9C132.4 444.3 133.6 447.1 133.6 447.9C133.6 448.6 132.5 449.4 132.0 448.9C131.5 448.4 130.1 445.4 129.6 443.9C129.1 442.4 128.0 437.8 128.0 436.9Z" fill="#f0f0f0"/>
<path d="M396.0 200.8C396.0 200.5 396.8 199.5 397.1 199.5C397.4 199.5 398.1 200.5 398.1 200.8C398.1 201.1 397.6 202.1 397.3 202.1C397.0 202.1 396.0 201.1 396.0 200.8Z" fill="#f0f0f0"/>
<path d="M410.0 182.4C410.0 182.0 410.8 180.8 411.1 180.8C411.4 180.8 412.2 182.0 412.2 182.4C412.2 182.8 411.6 184.0 411.3 184.0C411.0 184.0 410.0 182.8 410.0 182.4Z" fill="#f0f0f0"/>
<path d="M524.1 117.6C523.7 118.2 523.7 119.2 524.1 119.4C524.5 119.6 526.7 119.4 527.6 119.3C528.5 119.2 530.3 118.2 531.3 118.3C532.3 118.4 534.5 119.9 535.4 119.9C536.3 120.0 537.6 118.8 538.6 118.7C539.6 118.6 541.9 119.3 543.2 119.3C544.5 119.3 547.6 118.9 548.8 118.7C550.0 118.5 552.1 118.1 552.9 117.6C553.7 117.1 554.6 115.3 555.2 114.8C555.8 114.3 557.0 114.2 557.5 113.7C558.0 113.2 559.0 111.4 558.9 110.7C558.8 110.0 557.2 108.5 556.6 107.9C556.0 107.3 554.8 106.5 554.3 106.1C553.8 105.7 553.0 104.5 552.4 104.5C551.8 104.5 550.5 105.7 549.7 106.1C548.9 106.5 546.8 107.3 546.0 107.5C545.2 107.7 543.9 107.7 543.2 107.9C542.5 108.1 541.2 109.1 540.5 109.3C539.8 109.5 538.3 109.6 537.7 109.3C537.1 109.0 535.9 107.6 535.4 107.0C534.9 106.4 534.1 104.8 533.6 104.5C533.1 104.2 532.0 104.3 531.7 104.7C531.4 105.1 531.7 107.3 531.3 107.9C530.9 108.5 529.1 108.8 528.5 109.3C527.9 109.8 526.9 110.9 526.7 111.6C526.5 112.3 527.4 114.0 527.1 114.8C526.8 115.5 524.5 117.0 524.1 117.6Z" fill="#f0f0f0"/>
<path d="M581.0 107.5C580.7 107.0 580.5 104.7 580.5 103.8C580.5 102.9 581.1 101.2 581.4 100.6C581.7 100.0 582.5 99.1 582.8 99.2C583.1 99.3 583.7 100.8 583.9 101.5C584.1 102.2 584.3 103.9 584.2 104.7C584.1 105.5 583.2 107.6 582.8 107.9C582.4 108.2 581.3 108.0 581.0 107.5Z" fill="#f0f0f0"/>
<path d="M666.1 116.3C666.4 115.9 668.8 114.2 669.7 113.5C670.6 112.8 672.5 111.6 673.5 110.7C674.5 109.8 676.5 107.5 677.3 106.4C678.0 105.3 679.1 102.8 679.5 102.1C679.9 101.4 680.1 100.6 680.2 100.6C680.4 100.5 680.8 101.0 680.7 101.7C680.6 102.4 679.8 104.8 679.1 105.9C678.4 107.0 676.2 109.7 675.2 110.7C674.2 111.7 671.9 113.5 670.9 114.2C669.9 115.0 667.6 116.4 667.0 116.7C666.4 117.0 665.8 116.7 666.1 116.3Z" fill="#f0f0f0"/>
<path d="M669.7 174.8C670.0 174.6 671.7 174.6 671.9 173.7C672.1 172.8 671.2 168.3 671.5 167.2C671.8 166.0 674.0 165.1 674.6 164.5C675.2 163.9 676.2 162.6 676.7 162.4C677.2 162.2 678.4 162.3 678.7 162.6C679.0 162.9 678.7 164.3 679.1 164.5C679.5 164.7 681.1 163.9 681.6 164.0C682.1 164.1 683.1 165.1 683.2 165.6C683.3 166.1 682.4 167.3 682.1 167.8C681.8 168.3 680.8 168.8 680.5 169.4C680.2 170.0 679.7 172.0 679.8 172.6C679.9 173.2 681.0 174.1 681.6 174.3C682.2 174.5 683.9 174.1 684.3 174.3C684.7 174.5 684.7 175.6 684.5 175.9C684.3 176.2 683.5 176.9 682.7 177.0C681.9 177.1 678.9 176.5 677.8 176.4C676.6 176.3 674.5 176.0 673.5 175.9C672.5 175.8 670.2 175.4 669.7 175.3C669.2 175.2 669.4 175.0 669.7 174.8Z" fill="#f0f0f0"/>
<path d="M665.3 164.5C665.3 164.1 666.5 162.8 666.9 162.9C667.3 163.0 668.3 164.5 668.3 164.9C668.3 165.3 667.3 166.6 666.9 166.5C666.5 166.4 665.3 164.9 665.3 164.5Z" fill="#f0f0f0"/>
<path d="M673.9 206.5C673.9 206.1 675.1 205.2 675.5 205.3C675.9 205.4 676.8 206.9 676.7 207.3C676.7 207.7 675.5 208.6 675.1 208.5C674.8 208.4 673.9 206.9 673.9 206.5Z" fill="#f0f0f0"/>
<path d="M683.9 206.9C684.0 206.3 685.5 206.1 685.9 206.5C686.2 206.9 686.8 209.3 686.7 209.9C686.6 210.5 685.5 211.3 685.1 210.9C684.8 210.5 683.8 207.5 683.9 206.9Z" fill="#f0f0f0"/>
<path d="M734.8 232.9C734.7 232.3 735.9 230.1 736.8 229.3C737.7 228.5 740.5 226.9 741.8 226.5C743.1 226.1 746.8 225.6 747.4 225.9C748.0 226.2 747.5 228.2 746.8 228.9C746.1 229.7 742.9 231.3 741.8 231.9C740.7 232.5 738.7 233.8 737.8 233.9C736.9 234.0 734.9 233.5 734.8 232.9Z" fill="#f0f0f0"/>
<path d="M741.4 240.9C741.5 240.6 743.0 239.6 743.4 239.7C743.8 239.8 744.7 241.3 744.6 241.7C744.5 242.0 743.0 242.6 742.6 242.5C742.2 242.4 741.3 241.2 741.4 240.9Z" fill="#f0f0f0"/>
<path d="M735.0 232.4C735.1 231.8 736.2 229.8 737.0 229.0C737.8 228.2 739.9 226.8 741.0 226.4C742.1 226.0 745.0 225.4 745.9 225.6C746.8 225.8 748.1 227.4 747.9 228.0C747.6 228.6 744.9 229.4 743.9 230.0C742.9 230.6 740.9 232.0 740.0 232.4C739.1 232.8 737.0 233.6 736.4 233.6C735.8 233.6 734.9 233.0 735.0 232.4Z" fill="#f0f0f0"/>
<path d="M741.0 241.0C741.2 240.6 743.1 239.5 743.5 239.6C743.9 239.7 744.5 241.2 744.3 241.6C744.1 242.0 742.4 242.8 742.0 242.7C741.6 242.6 740.8 241.4 741.0 241.0Z" fill="#f0f0f0"/>
<path d="M683.6 208.0C683.7 207.3 685.5 206.8 686.0 207.2C686.5 207.6 687.3 210.3 687.2 211.0C687.1 211.7 685.7 212.8 685.2 212.4C684.8 212.0 683.5 208.7 683.6 208.0Z" fill="#f0f0f0"/>
<path d="M803.1 79.6C803.2 79.2 804.5 78.6 804.9 78.8C805.2 79.0 806.0 80.5 805.9 80.8C805.8 81.1 804.6 81.8 804.3 81.6C803.9 81.4 803.0 79.9 803.1 79.6Z" fill="#f0f0f0"/>
<path d="M805.9 81.6C806.0 81.2 807.5 80.6 807.9 80.8C808.2 81.0 808.9 82.5 808.7 82.8C808.6 83.1 807.1 83.8 806.7 83.6C806.4 83.4 805.8 81.9 805.9 81.6Z" fill="#f0f0f0"/>
<path d="M803.5 93.0C803.5 92.5 805.0 91.5 805.5 91.6C806.0 91.7 807.1 93.1 807.1 93.6C807.1 94.0 806.0 95.3 805.5 95.2C805.0 95.1 803.5 93.5 803.5 93.0Z" fill="#f0f0f0"/>
<path d="M895.0 268.6C895.4 268.1 899.2 267.2 900.0 267.8C900.8 268.4 901.6 272.1 901.6 273.0C901.6 273.9 900.2 274.7 899.6 274.6C899.0 274.5 897.6 272.8 897.0 272.0C896.4 271.2 894.6 269.1 895.0 268.6Z" fill="#f0f0f0"/>
<path d="M960.9 310.9C961.0 310.2 962.4 310.0 962.7 310.5C963.0 311.0 963.6 314.2 963.5 314.9C963.4 315.6 962.2 316.6 961.9 316.1C961.6 315.6 960.8 311.6 960.9 310.9Z" fill="#f0f0f0"/>
<path d="M983.1 356.5C983.3 356.2 984.5 356.1 984.7 356.5C984.9 356.9 984.9 359.0 984.7 359.3C984.5 359.6 983.3 359.2 983.1 358.9C982.9 358.5 982.9 356.8 983.1 356.5Z" fill="#f0f0f0"/>
<path d="M996.7 360.9C996.9 360.6 998.5 360.5 998.7 360.9C999.0 361.2 998.9 363.4 998.7 363.7C998.5 364.0 997.4 363.7 997.1 363.3C996.9 362.9 996.5 361.2 996.7 360.9Z" fill="#f0f0f0"/>
<path d="M1009.9 390.5C1010.1 389.8 1012.6 388.6 1013.5 388.9C1014.4 389.2 1016.7 391.9 1016.9 392.9C1017.1 393.9 1015.5 396.7 1014.9 396.9C1014.3 397.1 1012.5 395.3 1011.9 394.5C1011.3 393.7 1009.7 391.2 1009.9 390.5Z" fill="#f0f0f0"/>
<path d="M1010.9 389.4C1011.1 388.8 1013.2 388.4 1013.9 389.0C1014.6 389.6 1016.2 393.1 1016.3 394.0C1016.3 394.9 1014.8 396.7 1014.3 396.6C1013.8 396.5 1012.3 394.3 1011.9 393.4C1011.5 392.5 1010.6 389.9 1010.9 389.4Z" fill="#f0f0f0"/>
<path d="M1058.8 419.0C1059.1 418.3 1061.6 418.0 1062.2 418.6C1062.8 419.2 1064.0 422.4 1063.8 424.0C1063.6 425.6 1061.5 429.1 1060.8 431.0C1060.0 432.9 1058.4 437.4 1057.8 439.0C1057.2 440.6 1056.2 443.3 1055.8 443.4C1055.4 443.5 1054.7 441.4 1054.8 440.0C1054.9 438.6 1056.2 434.0 1056.8 432.0C1057.4 430.0 1059.5 425.6 1059.8 424.0C1060.0 422.4 1058.5 419.7 1058.8 419.0Z" fill="#f0f0f0"/>
<path d="M674.9 673.9C675.5 673.3 678.3 672.7 679.9 672.3C681.5 671.9 686.1 671.2 687.9 670.9C689.6 670.6 692.5 669.9 693.9 669.9C695.3 669.9 698.1 670.4 698.9 670.9C699.6 671.4 699.0 673.2 699.9 673.5C700.8 673.8 704.5 672.9 705.9 672.9C707.3 672.9 710.3 673.5 710.9 673.9C711.5 674.3 711.5 675.9 710.9 676.3C710.3 676.7 707.3 676.8 705.9 676.9C704.5 677.0 701.1 676.4 699.9 676.9C698.6 677.4 697.1 680.6 695.9 680.9C694.6 681.1 691.4 679.0 689.9 678.9C688.4 678.8 685.4 679.9 683.9 679.9C682.4 679.9 679.0 679.3 677.9 678.9C676.8 678.5 675.3 677.5 674.9 676.9C674.5 676.3 674.3 674.5 674.9 673.9Z" fill="#f0f0f0"/>
<path d="M862.9 786.9C863.6 786.2 866.5 788.8 867.9 789.3C869.3 789.8 872.6 790.4 873.9 790.5C875.1 790.6 876.6 789.6 877.9 789.9C879.1 790.2 882.3 792.1 883.9 792.9C885.5 793.6 889.1 795.3 890.9 795.9C892.6 796.5 896.3 797.6 897.9 797.9C899.5 798.2 902.3 798.6 903.9 798.5C905.5 798.4 909.8 796.9 910.9 796.9C912.0 796.9 912.4 799.0 912.9 798.9C913.4 798.8 914.0 796.4 914.9 795.9C915.8 795.4 918.8 795.2 919.9 794.9C921.0 794.6 922.8 793.4 923.9 793.3C925.0 793.2 927.6 794.1 928.9 793.9C930.1 793.7 932.5 792.4 933.9 791.9C935.3 791.4 938.6 790.1 939.9 789.9C941.1 789.7 943.0 790.0 943.9 790.5C944.8 791.0 946.4 792.4 946.9 793.9C947.4 795.4 947.5 800.8 947.5 802.9C947.5 805.0 946.9 809.1 946.9 810.9C946.9 812.6 947.3 815.3 947.5 816.9C947.7 818.5 948.4 822.9 948.3 823.9C948.1 824.9 946.7 825.1 946.3 824.5C945.9 823.9 945.5 819.2 945.1 818.9C944.7 818.6 943.5 820.9 942.9 821.9C942.2 822.9 940.4 825.3 939.9 826.9C939.4 828.5 939.1 832.9 938.9 834.9C938.7 836.9 938.8 842.0 938.3 842.9C937.8 843.8 935.7 841.9 934.9 841.9C934.1 841.9 932.8 843.1 931.9 842.9C931.0 842.6 928.9 840.6 927.9 839.9C926.9 839.1 924.0 836.5 923.9 836.9C923.8 837.3 927.0 841.9 926.9 842.9C926.8 843.9 923.8 844.4 922.9 844.9C922.0 845.4 920.5 845.9 919.9 846.9C919.3 847.9 919.1 851.9 917.9 852.9C916.6 853.9 912.1 854.8 909.9 854.9C907.6 855.0 901.9 854.6 899.9 853.9C897.9 853.1 895.6 850.3 893.9 848.9C892.1 847.5 887.5 844.1 885.9 842.9C884.3 841.6 881.9 840.3 880.9 838.9C879.9 837.5 878.6 833.6 877.9 831.9C877.2 830.1 875.9 826.1 875.5 824.9C875.1 823.6 874.6 822.3 874.9 821.9C875.2 821.5 876.9 821.3 877.9 821.9C878.9 822.5 882.4 826.0 882.9 826.9C883.4 827.8 882.8 829.3 881.9 828.9C881.0 828.5 876.9 825.1 875.9 823.9C874.9 822.6 874.6 820.5 873.9 818.9C873.1 817.3 870.9 812.8 869.9 810.9C868.9 809.0 866.9 805.9 865.9 803.9C864.9 801.9 862.7 797.0 862.3 794.9C861.9 792.8 862.2 787.6 862.9 786.9Z" fill="#f0f0f0"/>
<path d="M843.9 764.0C844.3 763.1 846.2 762.0 846.9 762.0C847.6 762.0 849.1 763.1 849.5 764.0C849.9 764.9 850.2 767.8 850.3 769.0C850.3 770.2 850.6 772.7 849.9 773.4C849.2 774.1 845.7 775.1 844.9 774.6C844.1 774.1 843.6 770.3 843.5 769.0C843.4 767.7 843.5 764.9 843.9 764.0Z" fill="#f0f0f0"/>
<path d="M934.9 768.0C934.9 767.0 937.9 765.4 938.9 765.4C939.9 765.4 941.9 767.2 942.9 768.0C943.9 768.8 946.3 770.9 946.9 772.0C947.5 773.1 948.0 776.3 947.5 777.0C947.0 777.7 944.0 777.9 942.9 777.4C941.8 776.9 939.9 774.2 938.9 773.0C937.9 771.8 934.9 769.0 934.9 768.0Z" fill="#f0f0f0"/>
<path d="M940.9 780.9C941.3 780.4 944.6 779.4 945.9 779.3C947.1 779.2 950.5 779.4 950.9 779.9C951.3 780.4 949.9 782.5 948.9 782.9C947.9 783.3 943.9 783.5 942.9 783.3C941.9 783.0 940.5 781.4 940.9 780.9Z" fill="#f0f0f0"/>
<path d="M942.9 784.1C943.1 783.9 944.8 783.6 945.1 783.7C945.4 783.9 945.3 785.1 945.1 785.3C944.9 785.5 943.6 785.6 943.3 785.5C943.0 785.4 942.7 784.3 942.9 784.1Z" fill="#f0f0f0"/>
<path d="M863.9 782.5C864.0 782.1 865.1 781.8 865.3 782.1C865.5 782.4 865.4 784.5 865.3 784.9C865.1 785.2 864.3 785.2 864.1 784.9C863.9 784.6 863.8 782.9 863.9 782.5Z" fill="#f0f0f0"/>
<path d="M940.5 832.9C940.7 832.4 942.5 831.8 942.9 831.9C943.3 832.0 944.1 833.4 943.9 833.9C943.7 834.4 941.9 835.6 941.5 835.5C941.1 835.4 940.3 833.4 940.5 832.9Z" fill="#f0f0f0"/>
<path d="M874.0 736.9C873.9 736.2 875.2 733.0 876.0 732.3C876.8 731.5 879.1 730.8 880.0 730.9C880.9 731.0 882.9 732.8 883.0 733.5C883.1 734.2 881.8 736.4 881.0 736.9C880.2 737.4 877.9 737.9 877.0 737.9C876.1 737.9 874.1 737.6 874.0 736.9Z" fill="#f0f0f0"/>
<path d="M877.0 734.9C876.9 734.5 878.5 733.0 879.0 732.9C879.5 732.8 880.9 733.9 881.0 734.3C881.1 734.7 880.1 736.2 879.6 736.3C879.1 736.4 877.1 735.3 877.0 734.9Z" fill="#f0f0f0"/>
<rect x="60" y="75" width="1043" height="814" fill="#ffffff" fill-opacity="0.75"/>
<path d="M213.9 890.0 L213.9 881.3 L208.4 875.0 L207.6 857.8 L200.5 837.4 L196.1 820.2 L196.1 796.0 L196.1 789.1 L203.0 781.8 L203.0 777.6 L195.7 771.9 L208.8 758.1 L211.1 756.9 L217.2 756.9 L218.7 758.1 L220.7 762.3 L223.3 763.4 L232.9 762.7 L267.4 796.0 L279.6 807.8 L298.4 826.4 L311.0 845.2 L320.4 860.1 L326.6 861.7 L329.7 868.7 L346.2 886.7 L349.0 890.0Z" fill="url(#bg)"/>
<line x1="292.5" y1="54" x2="292.5" y2="889" stroke="#7a7a7a" stroke-opacity="0.22" stroke-width="1" stroke-dasharray="2.57 1.11"/>
<line x1="523.5" y1="54" x2="523.5" y2="889" stroke="#7a7a7a" stroke-opacity="0.22" stroke-width="1" stroke-dasharray="2.57 1.11"/>
<line x1="755.5" y1="54" x2="755.5" y2="889" stroke="#7a7a7a" stroke-opacity="0.22" stroke-width="1" stroke-dasharray="2.57 1.11"/>
<line x1="986.5" y1="54" x2="986.5" y2="889" stroke="#7a7a7a" stroke-opacity="0.22" stroke-width="1" stroke-dasharray="2.57 1.11"/>
<line x1="60" y1="78.5" x2="1103" y2="78.5" stroke="#7a7a7a" stroke-opacity="0.22" stroke-width="1" stroke-dasharray="2.57 1.11"/>
<line x1="60" y1="193.5" x2="1103" y2="193.5" stroke="#7a7a7a" stroke-opacity="0.22" stroke-width="1" stroke-dasharray="2.57 1.11"/>
<line x1="60" y1="309.5" x2="1103" y2="309.5" stroke="#7a7a7a" stroke-opacity="0.22" stroke-width="1" stroke-dasharray="2.57 1.11"/>
<line x1="60" y1="425.5" x2="1103" y2="425.5" stroke="#7a7a7a" stroke-opacity="0.22" stroke-width="1" stroke-dasharray="2.57 1.11"/>
<line x1="60" y1="540.5" x2="1103" y2="540.5" stroke="#7a7a7a" stroke-opacity="0.22" stroke-width="1" stroke-dasharray="2.57 1.11"/>
<line x1="60" y1="656.5" x2="1103" y2="656.5" stroke="#7a7a7a" stroke-opacity="0.22" stroke-width="1" stroke-dasharray="2.57 1.11"/>
<line x1="60" y1="772.5" x2="1103" y2="772.5" stroke="#7a7a7a" stroke-opacity="0.22" stroke-width="1" stroke-dasharray="2.57 1.11"/>
<path d="M500.5 191.5 L500.5 579.5" fill="none" stroke="#b0b0b0" stroke-width="1"/>
<path d="M500.5 447.5 L778.0 447.5" fill="none" stroke="#b0b0b0" stroke-width="1"/>
<path d="M708.5 229.5 L708.5 447.5" fill="none" stroke="#b0b0b0" stroke-width="1"/>
<path d="M778.0 447.5 L778.0 727.0" fill="none" stroke="#b0b0b0" stroke-width="1"/>
<path d="M778.0 517.5 L962.9 517.5" fill="none" stroke="#b0b0b0" stroke-width="1"/>
<path d="M962.9 517.3C963.8 516.6 968.3 513.1 969.9 511.9C971.5 510.6 973.9 507.9 975.9 507.3C977.9 506.7 983.9 507.4 985.9 507.3C987.9 507.2 990.4 506.7 991.9 506.9C993.4 507.1 996.4 508.6 997.9 508.9C999.4 509.1 1002.4 508.6 1003.9 508.9C1005.4 509.1 1008.5 510.1 1009.9 510.9C1011.3 511.6 1013.9 513.7 1014.9 514.9C1015.9 516.1 1017.4 520.2 1018.3 520.5C1019.2 520.8 1020.8 517.5 1021.9 516.9C1023.0 516.3 1025.5 516.3 1026.9 515.9C1028.3 515.5 1032.3 515.1 1032.9 513.9C1033.5 512.7 1031.3 507.8 1031.9 506.5C1032.5 505.2 1036.3 504.7 1037.8 503.9C1039.3 503.1 1042.0 500.6 1043.8 500.3C1045.5 500.1 1049.8 501.8 1051.8 501.9C1053.8 502.0 1057.8 501.3 1059.8 500.9C1061.8 500.5 1066.8 499.1 1067.8 498.9" fill="none" stroke="#999" stroke-width="0.6" stroke-linejoin="round"/>
<path d="M777.8 633.9C778.5 634.1 782.4 635.1 783.8 635.5C785.2 635.9 787.5 637.0 788.8 636.9C790.0 636.8 792.3 635.0 793.8 634.9C795.3 634.8 799.3 635.4 800.8 635.9C802.3 636.4 804.7 638.1 805.8 638.9C806.9 639.6 809.0 640.9 809.8 641.9C810.5 642.9 811.0 645.8 811.8 646.9C812.5 648.0 814.9 650.9 815.8 650.9C816.7 650.9 817.7 647.1 818.8 646.9C819.9 646.6 823.4 648.5 824.8 648.9C826.2 649.3 828.8 649.3 829.8 649.9C830.8 650.5 832.4 652.8 832.8 653.9C833.2 655.0 832.2 657.8 832.8 658.9C833.4 660.0 836.4 661.9 837.8 662.9C839.2 663.9 842.3 666.0 843.8 666.9C845.3 667.8 848.5 668.9 850.0 669.9C851.5 670.9 854.8 673.7 856.0 674.9C857.2 676.1 858.8 678.6 860.0 679.5C861.2 680.4 864.9 682.2 866.0 682.3C867.1 682.3 868.2 680.6 869.0 679.9C869.8 679.2 870.6 677.4 872.0 676.9C873.4 676.4 878.0 675.4 880.0 675.5C882.0 675.6 886.0 677.4 888.0 677.9C890.0 678.4 894.0 679.3 896.0 679.5C898.0 679.7 902.0 679.3 904.0 679.5C906.0 679.7 910.0 680.7 912.0 680.9C914.0 681.1 918.2 681.1 919.9 680.9C921.6 680.6 924.4 679.2 925.9 678.9C927.4 678.6 930.4 678.3 931.9 678.3C933.4 678.3 936.8 678.1 937.9 678.9C939.0 679.7 940.4 683.3 940.9 684.9C941.4 686.5 941.9 690.3 942.3 691.9C942.7 693.5 944.0 696.7 944.2 697.4" fill="none" stroke="#999" stroke-width="0.6" stroke-linejoin="round"/>
<path d="M964.9 660.9C964.3 661.1 960.8 662.0 959.9 662.9C959.0 663.8 957.9 666.6 957.9 667.9C957.9 669.1 958.9 672.0 959.5 672.9C960.1 673.8 962.3 674.4 962.9 674.9C963.5 675.4 964.0 677.0 964.3 676.9C964.6 676.8 965.5 674.8 965.5 673.9C965.5 673.0 963.7 670.9 963.9 669.9C964.1 668.9 966.5 666.4 966.9 665.9" fill="none" stroke="#999" stroke-width="0.6" stroke-linejoin="round"/>
<path d="M407.5 54.4C407.6 55.0 408.8 58.0 408.7 59.0C408.6 60.0 406.6 61.3 406.7 62.0C406.8 62.7 409.1 64.5 409.5 64.8" fill="none" stroke="#999" stroke-width="0.6" stroke-linejoin="round"/>
<path d="M386.2 63.6C386.6 63.2 388.7 60.7 389.6 60.4C390.5 60.1 393.2 60.8 393.6 61.2C394.0 61.7 393.5 63.5 392.8 64.0C392.1 64.5 388.6 64.7 388.0 64.8" fill="none" stroke="#999" stroke-width="0.6" stroke-linejoin="round"/>
<path d="M944.2 697.4 L984.3 713.6" fill="none" stroke="#999" stroke-width="0.6"/>
<path d="M374.6 78.9C374.7 77.3 375.7 72.6 376.6 70.9C377.5 69.2 380.0 66.4 381.6 65.0C383.2 63.6 387.6 61.0 389.6 60.0C391.6 59.0 395.7 57.8 397.6 57.0C399.5 56.2 399.8 54.0 404.5 53.6C409.2 53.2 432.8 52.9 435.4 53.6C438.0 54.3 427.7 58.0 425.5 59.0C423.3 60.0 419.5 61.0 417.5 62.0C415.5 63.0 411.2 65.5 409.5 66.9C407.8 68.3 404.9 71.5 403.5 72.9C402.1 74.3 400.0 76.8 398.6 77.9C397.2 79.0 394.2 80.7 392.6 81.5C391.0 82.3 387.2 83.8 385.6 84.3C384.0 84.8 380.9 86.0 379.6 85.9C378.4 85.9 376.2 84.8 375.6 83.9C375.0 83.0 374.5 80.5 374.6 78.9Z" fill="none" stroke="#5c5c5c" stroke-width="1.42" stroke-linejoin="round"/>
<path d="M356.7 96.9C356.6 96.3 357.7 95.0 358.7 94.3C359.7 93.5 363.3 91.7 364.7 90.9C366.1 90.2 368.7 88.4 369.6 88.3C370.5 88.2 371.6 89.2 371.6 89.9C371.6 90.6 370.5 93.0 369.6 93.9C368.7 94.9 365.9 96.9 364.7 97.5C363.5 98.1 360.7 99.0 359.7 98.9C358.7 98.8 356.8 97.5 356.7 96.9Z" fill="none" stroke="#5c5c5c" stroke-width="1.42" stroke-linejoin="round"/>
<path d="M368.6 83.5C368.6 83.0 369.8 81.1 370.2 80.9C370.6 80.7 372.0 81.4 372.0 81.9C372.0 82.4 370.8 84.7 370.4 84.9C370.0 85.1 368.6 84.0 368.6 83.5Z" fill="none" stroke="#5c5c5c" stroke-width="1.42" stroke-linejoin="round"/>
<path d="M267.9 65.0C268.4 63.9 273.3 63.3 275.9 63.0C278.5 62.7 286.9 62.6 288.9 62.4C290.9 62.1 290.9 60.7 291.9 61.0C292.9 61.3 295.5 63.9 296.9 65.0C298.3 66.1 301.3 68.5 302.8 69.9C304.3 71.3 307.9 74.7 308.8 75.9C309.7 77.2 310.2 79.2 309.8 79.9C309.4 80.7 307.0 81.5 305.8 81.9C304.6 82.3 301.9 82.9 299.9 82.9C297.9 82.9 292.4 82.5 289.9 81.9C287.4 81.3 282.1 79.2 279.9 77.9C277.6 76.7 273.4 73.5 271.9 71.9C270.4 70.3 267.4 66.1 267.9 65.0Z" fill="none" stroke="#5c5c5c" stroke-width="1.42" stroke-linejoin="round"/>
<path d="M332.8 88.9C333.1 88.4 335.0 87.4 335.7 87.3C336.4 87.2 338.6 87.5 338.7 87.9C338.8 88.4 337.3 90.5 336.7 90.9C336.1 91.4 334.2 91.8 333.7 91.5C333.2 91.2 332.6 89.4 332.8 88.9Z" fill="none" stroke="#5c5c5c" stroke-width="1.42" stroke-linejoin="round"/>
<path d="M773.0 53.0C766.9 53.7 779.1 57.6 782.0 58.4C784.9 59.1 792.4 58.9 795.9 59.0C799.4 59.1 807.4 58.6 809.9 59.0C812.4 59.4 813.3 62.8 815.9 62.0C818.5 61.2 836.3 54.1 830.9 53.0C825.5 51.9 779.1 52.3 773.0 53.0Z" fill="none" stroke="#5c5c5c" stroke-width="1.42" stroke-linejoin="round"/>
<path d="M909.7 54.0C902.9 54.1 913.7 54.1 914.5 54.8C915.3 55.5 915.3 58.5 916.1 59.7C916.9 60.9 919.6 63.2 920.9 64.5C922.2 65.8 925.3 68.7 926.6 70.1C927.9 71.5 930.3 74.7 931.4 75.8C932.5 76.9 934.0 78.2 935.4 78.7C936.8 79.2 941.1 79.5 942.7 79.8C944.3 80.1 946.8 81.3 948.3 81.4C949.8 81.5 953.2 80.4 954.8 80.6C956.4 80.8 959.4 82.6 961.2 83.0C963.0 83.4 967.2 83.8 969.2 84.1C971.2 84.4 975.7 84.9 977.3 85.4C978.9 85.9 980.9 87.0 982.1 87.8C983.3 88.6 985.7 90.9 987.0 91.5C988.3 92.1 991.2 92.6 992.6 92.7C994.0 92.8 997.1 92.6 998.2 92.2C999.3 91.8 1001.6 90.2 1001.4 89.5C1001.2 88.8 997.3 87.6 996.6 87.0C995.9 86.4 995.3 85.0 995.8 84.6C996.3 84.2 999.4 84.3 1000.6 84.1C1001.8 83.9 1005.6 83.1 1005.5 83.0C1005.4 82.9 1001.3 83.3 999.8 83.0C998.3 82.7 995.0 81.4 993.4 80.9C991.8 80.4 988.4 79.5 987.0 79.0C985.6 78.5 982.9 77.3 982.1 76.6C981.3 75.9 980.4 74.0 980.5 73.3C980.6 72.6 982.1 71.3 982.9 70.9C983.7 70.5 987.3 70.4 987.0 70.1C986.7 69.8 982.1 68.8 980.5 68.5C978.9 68.2 975.5 67.9 974.1 67.4C972.7 66.9 969.9 65.5 969.2 64.5C968.5 63.5 968.4 61.0 968.4 59.7C968.4 58.4 976.5 54.7 969.2 54.0C961.9 53.3 916.5 53.9 909.7 54.0Z" fill="none" stroke="#5c5c5c" stroke-width="1.42" stroke-linejoin="round"/>
<path d="M988.2 60.5C988.3 59.8 990.2 58.7 991.0 58.9C991.8 59.1 993.9 61.2 994.2 62.1C994.5 63.0 993.9 65.8 993.4 66.1C992.9 66.4 990.9 65.2 990.2 64.5C989.6 63.8 988.1 61.2 988.2 60.5Z" fill="none" stroke="#5c5c5c" stroke-width="1.42" stroke-linejoin="round"/>
<path d="M996.3 63.7C996.6 63.0 999.5 62.5 1000.6 62.6C1001.8 62.7 1004.7 63.8 1005.5 64.5C1006.3 65.2 1007.4 67.8 1007.1 68.5C1006.8 69.2 1004.2 70.1 1003.1 70.1C1002.0 70.1 999.1 69.3 998.2 68.5C997.4 67.7 996.0 64.4 996.3 63.7Z" fill="none" stroke="#5c5c5c" stroke-width="1.42" stroke-linejoin="round"/>
<path d="M1003.9 70.9C1004.0 70.7 1006.2 73.4 1007.1 74.2C1008.0 75.0 1010.1 77.2 1011.1 77.4C1012.1 77.6 1014.5 75.6 1015.1 75.8C1015.8 76.0 1016.5 78.2 1016.3 79.0C1016.1 79.8 1014.4 81.8 1013.5 81.9C1012.6 82.0 1010.4 80.6 1009.5 79.8C1008.6 79.0 1007.0 76.9 1006.3 75.8C1005.6 74.7 1003.8 71.1 1003.9 70.9Z" fill="none" stroke="#5c5c5c" stroke-width="1.42" stroke-linejoin="round"/>
<path d="M1004.3 90.3C1004.5 90.0 1006.0 89.7 1006.3 89.9C1006.6 90.1 1007.1 91.6 1006.9 91.9C1006.7 92.2 1005.3 92.7 1005.0 92.5C1004.7 92.3 1004.1 90.6 1004.3 90.3Z" fill="none" stroke="#5c5c5c" stroke-width="1.42" stroke-linejoin="round"/>
<path d="M1044.9 54.0C1044.6 54.5 1048.6 57.5 1049.8 58.1C1051.0 58.7 1053.9 59.1 1054.6 58.9C1055.3 58.6 1055.7 56.7 1055.4 56.1C1055.1 55.5 1053.5 54.3 1052.2 54.0C1050.9 53.7 1045.2 53.5 1044.9 54.0Z" fill="none" stroke="#5c5c5c" stroke-width="1.42" stroke-linejoin="round"/>
<path d="M1060.2 108.0C1060.3 107.6 1063.1 108.8 1064.3 109.3C1065.5 109.8 1068.8 111.4 1069.9 112.0C1071.0 112.6 1073.2 113.7 1073.1 114.1C1073.0 114.5 1070.3 115.7 1069.1 115.5C1067.9 115.3 1064.5 113.7 1063.4 112.8C1062.3 111.9 1060.1 108.4 1060.2 108.0Z" fill="none" stroke="#5c5c5c" stroke-width="1.42" stroke-linejoin="round"/>
<path d="M1079.5 108.8C1079.5 108.4 1082.0 107.5 1082.8 107.6C1083.5 107.7 1085.5 108.9 1085.5 109.3C1085.5 109.7 1083.5 110.6 1082.8 110.5C1082.0 110.4 1079.5 109.2 1079.5 108.8Z" fill="none" stroke="#5c5c5c" stroke-width="1.42" stroke-linejoin="round"/>
<path d="M952.3 54.0C951.1 54.2 953.2 55.5 953.9 55.8C954.6 56.1 957.0 56.4 958.0 56.4C959.0 56.4 961.4 55.8 962.0 55.5C962.6 55.2 964.3 54.2 963.1 54.0C961.9 53.8 953.4 53.8 952.3 54.0Z" fill="none" stroke="#5c5c5c" stroke-width="1.42" stroke-linejoin="round"/>
<path d="M175.9 545.1C175.8 543.8 175.0 536.2 174.9 533.9C174.8 531.6 175.8 528.6 175.5 526.9C175.2 525.1 174.0 521.6 172.9 519.9C171.8 518.1 167.8 514.5 166.9 512.9C166.0 511.3 166.4 508.5 165.5 506.9C164.6 505.3 161.1 501.3 160.0 499.9C158.9 498.5 157.0 497.4 156.4 495.9C155.8 494.4 155.9 489.9 155.6 487.9C155.3 485.9 154.8 481.9 154.0 479.9C153.2 477.9 150.4 473.9 149.0 471.9C147.6 469.9 144.4 465.8 143.0 463.9C141.6 462.0 138.9 458.3 138.0 456.9C137.1 455.4 135.7 453.1 135.6 452.3C135.5 451.5 136.4 450.1 137.0 450.3C137.6 450.5 139.2 452.8 140.0 453.9C140.8 455.0 142.2 458.0 143.0 458.9C143.8 459.8 145.3 461.0 146.0 460.9C146.7 460.8 148.2 458.9 148.4 457.9C148.6 456.9 147.7 454.0 147.2 452.9C146.7 451.8 145.3 450.2 144.4 449.1C143.5 448.0 140.7 445.0 140.0 443.9C139.3 442.8 138.9 440.6 139.2 439.9C139.4 439.2 141.3 438.1 142.0 438.3C142.7 438.5 144.4 440.4 145.0 441.5C145.6 442.6 146.4 446.4 147.0 447.1C147.6 447.9 149.4 446.9 150.0 447.5C150.6 448.1 151.0 451.1 151.6 452.3C152.2 453.5 154.2 456.7 155.0 456.9C155.8 457.1 157.6 455.3 158.0 453.9C158.4 452.5 158.9 447.6 158.4 445.9C157.9 444.1 155.2 441.9 154.0 439.9C152.8 437.9 150.2 432.3 149.0 429.9C147.8 427.5 145.1 423.2 144.0 421.0C142.9 418.8 140.6 413.9 140.0 412.0C139.4 410.1 138.9 407.8 139.0 406.0C139.1 404.2 140.2 399.9 141.0 398.0C141.8 396.1 144.1 392.6 145.0 391.0C145.9 389.4 147.6 386.9 148.0 385.0C148.4 383.1 148.2 378.0 148.0 376.0C147.8 374.0 146.3 369.8 146.0 369.0C145.7 368.2 145.3 370.5 145.6 369.9C145.8 369.3 147.4 365.4 148.0 363.9C148.6 362.4 149.4 359.3 150.0 357.9C150.6 356.5 151.7 353.7 152.4 352.9C153.1 352.1 155.1 351.1 155.6 351.3C156.1 351.6 156.6 353.7 156.6 354.9C156.6 356.1 155.3 359.5 155.4 360.9C155.5 362.3 156.4 365.3 157.0 365.9C157.6 366.5 159.1 366.4 160.0 365.5C160.9 364.6 162.8 360.7 163.9 358.9C165.0 357.1 167.5 352.3 168.9 350.9C170.3 349.5 172.8 348.8 174.9 347.9C177.0 347.0 183.0 345.6 185.9 343.9C188.8 342.1 195.2 335.9 197.9 333.9C200.7 331.9 205.7 329.2 207.9 327.9C210.2 326.6 213.7 324.1 215.9 323.5C218.2 322.9 224.0 323.2 225.9 323.5C227.8 323.8 229.3 325.5 230.9 325.5C232.5 325.5 236.7 324.4 238.9 323.5C241.2 322.6 245.9 319.0 248.9 317.9C251.9 316.8 260.1 316.0 262.9 314.9C265.6 313.8 268.5 309.5 270.9 308.9C273.3 308.3 280.0 310.1 281.9 309.9C283.8 309.7 284.0 307.9 285.9 307.5C287.8 307.1 294.3 306.8 296.8 306.3C299.3 305.8 303.6 304.3 305.8 303.5C308.1 302.7 313.0 300.9 314.8 299.9C316.6 298.9 318.9 296.7 320.0 295.7C321.1 294.7 322.9 293.0 323.8 292.0C324.7 291.0 326.3 288.9 327.0 287.6C327.7 286.3 329.1 283.0 329.7 281.7C330.3 280.4 331.4 278.4 331.9 277.4C332.4 276.4 333.3 274.3 334.0 273.6C334.7 272.9 336.9 272.6 337.8 272.0C338.8 271.4 340.5 269.6 341.6 268.7C342.7 267.8 346.0 265.1 346.5 264.4C347.0 263.7 346.1 263.1 345.7 262.8C345.3 262.5 343.6 262.6 343.2 261.7C342.8 260.8 342.4 257.2 342.1 255.8C341.8 254.4 341.2 251.7 341.1 250.4C341.0 249.1 341.2 246.7 341.6 245.5C342.0 244.3 343.6 242.1 344.3 241.2C345.0 240.3 346.6 239.0 347.5 238.5C348.4 238.0 350.4 237.5 351.3 236.9C352.2 236.3 354.4 234.5 355.1 233.6C355.9 232.7 356.8 230.2 357.3 229.3C357.8 228.4 358.9 226.4 359.4 226.1C359.9 225.8 360.6 226.2 361.1 227.1C361.6 228.0 362.5 232.1 363.2 233.6C363.9 235.1 365.8 237.7 366.5 239.0C367.2 240.3 368.5 243.1 369.2 244.4C369.9 245.7 371.3 248.4 371.9 249.3C372.5 250.2 373.6 251.8 374.0 251.5C374.4 251.2 374.9 248.2 375.1 247.1C375.4 245.9 375.9 243.2 376.0 242.3C376.1 241.4 375.4 240.3 375.6 240.1C375.8 239.9 377.2 240.3 377.8 240.6C378.4 240.9 380.0 242.8 380.5 242.3C381.0 241.8 381.7 237.7 381.6 236.9C381.5 236.1 380.1 236.4 379.4 235.8C378.7 235.2 377.0 233.4 376.2 232.5C375.4 231.6 373.2 229.5 372.9 228.8C372.6 228.1 373.6 227.5 374.0 227.1C374.4 226.7 375.7 226.2 376.0 225.5C376.3 224.8 376.0 221.8 376.2 221.2C376.4 220.6 377.4 220.5 377.8 220.7C378.2 220.9 378.9 222.3 379.4 222.8C379.9 223.3 381.2 225.0 381.6 225.0C382.0 225.0 382.2 222.9 382.7 222.6C383.2 222.2 385.1 222.0 385.9 222.2C386.7 222.4 388.2 223.6 389.2 224.0C390.1 224.4 391.9 224.9 393.5 225.1C395.1 225.3 401.6 225.5 402.1 225.4C402.6 225.3 398.4 224.5 397.3 224.3C396.2 224.1 393.9 224.2 393.5 223.5C393.1 222.8 393.3 219.8 393.8 219.1C394.3 218.4 397.2 218.7 397.8 218.1C398.4 217.5 398.4 215.1 398.6 214.3C398.8 213.5 399.5 212.0 399.4 211.8C399.3 211.6 398.2 212.3 397.8 212.7C397.4 213.1 396.8 215.1 396.2 214.8C395.6 214.5 393.3 211.6 393.0 210.5C392.7 209.4 393.2 207.1 393.5 206.2C393.8 205.2 395.2 203.2 395.7 202.9C396.2 202.6 396.9 204.1 397.3 204.0C397.7 203.9 398.4 202.4 398.9 201.9C399.4 201.4 400.9 199.8 401.6 199.7C402.3 199.6 403.8 200.4 404.3 200.8C404.8 201.2 405.4 202.5 405.9 202.9C406.4 203.3 407.9 204.3 408.3 204.0C408.7 203.7 409.7 201.3 409.4 200.8C409.1 200.3 406.6 200.3 405.9 199.9C405.2 199.5 403.9 198.1 404.0 197.5C404.1 196.9 405.9 195.3 406.5 194.8C407.1 194.3 407.9 193.5 408.6 193.4C409.3 193.3 411.5 193.5 412.4 193.8C413.3 194.1 415.1 195.9 415.6 195.9C416.1 195.9 416.8 194.3 416.5 193.8C416.2 193.3 414.0 192.3 413.5 191.6C413.0 190.9 412.7 189.0 412.4 188.3C412.1 187.6 411.2 186.8 411.3 186.2C411.4 185.6 412.8 184.0 413.5 183.5C414.2 183.0 416.4 182.5 417.3 182.2C418.2 181.9 420.6 181.5 421.1 180.8C421.6 180.1 421.3 177.0 421.6 176.5C421.9 176.0 423.0 175.9 423.2 176.5C423.4 177.1 422.9 180.8 423.2 181.3C423.5 181.8 424.8 180.5 425.4 180.8C426.0 181.1 427.5 183.9 428.1 184.0C428.7 184.1 429.8 182.6 430.2 181.9C430.6 181.2 431.0 179.2 431.3 178.1C431.6 177.0 432.8 174.2 432.9 173.2C433.0 172.2 431.8 170.5 431.9 170.0C432.0 169.5 433.1 169.1 433.5 169.2C433.9 169.3 434.8 170.5 435.1 171.1C435.4 171.7 435.7 173.9 436.2 173.8C436.7 173.7 438.3 170.8 438.9 170.5C439.5 170.2 440.3 170.7 441.0 171.1C441.7 171.5 443.5 173.8 444.3 173.8C445.1 173.8 446.9 171.8 447.5 171.1C448.1 170.3 449.0 168.6 449.1 167.8C449.2 167.1 448.3 165.6 448.6 165.1C448.9 164.6 450.6 163.9 451.3 163.8C452.0 163.7 453.8 164.2 454.5 164.6C455.2 165.0 456.2 166.2 457.2 166.7C458.1 167.2 461.0 168.3 462.1 168.9C463.2 169.5 465.4 170.9 466.4 171.6C467.4 172.3 469.2 173.8 470.2 174.8C471.1 175.8 473.1 178.6 474.0 179.7C474.9 180.8 476.9 182.6 477.8 183.5C478.7 184.4 481.1 185.8 481.5 186.7C481.9 187.6 481.3 189.6 481.0 190.5C480.7 191.4 479.7 193.0 479.4 194.3C479.1 195.6 478.3 200.2 478.5 200.8C478.7 201.4 480.4 199.3 481.0 199.2C481.6 199.1 483.1 200.0 483.2 199.7C483.3 199.4 481.6 197.2 481.5 196.5C481.4 195.8 481.5 194.8 482.1 193.8C482.7 192.9 485.5 189.7 486.4 188.9C487.3 188.1 488.6 187.6 489.6 187.5C490.6 187.4 493.2 187.7 494.5 188.0C495.8 188.3 498.9 189.4 499.9 189.8C500.9 190.2 502.1 190.8 502.6 191.6C503.1 192.4 503.9 195.3 504.2 195.9C504.5 196.5 505.1 197.0 505.3 196.5C505.5 196.0 505.4 192.3 505.9 191.6C506.4 190.8 508.3 190.4 509.1 190.5C509.9 190.6 511.6 191.4 512.3 192.1C513.0 192.8 514.1 195.8 514.5 195.9C514.9 196.0 515.5 193.4 515.6 192.7C515.7 192.0 514.6 190.6 515.0 190.0C515.4 189.4 518.7 188.6 518.8 188.3C518.9 188.0 516.6 187.8 516.1 187.3C515.6 186.8 514.4 185.2 514.5 184.6C514.6 184.0 516.8 183.2 516.7 182.9C516.6 182.6 514.1 182.2 513.4 181.9C512.7 181.6 511.9 181.2 511.3 180.8C510.7 180.4 508.7 179.6 508.6 179.0C508.5 178.4 509.6 176.8 510.2 175.9C510.8 175.0 512.6 173.0 513.4 172.1C514.2 171.2 516.1 169.9 516.7 168.9C517.3 167.9 517.9 165.2 518.3 164.0C518.7 162.8 519.4 160.4 520.0 159.7C520.6 158.9 521.7 158.7 522.8 158.0C523.9 157.3 528.3 155.2 528.8 154.0C529.3 152.8 526.7 149.2 526.8 148.0C526.9 146.8 528.9 145.1 529.8 144.0C530.7 142.9 532.8 139.8 533.8 139.0C534.8 138.2 537.0 138.5 537.8 138.0C538.6 137.5 538.9 135.8 540.0 135.0C541.1 134.2 545.0 132.0 547.0 132.0C549.0 132.0 553.9 134.9 556.0 135.0C558.1 135.1 561.3 133.6 564.0 133.0C566.7 132.4 575.7 131.1 577.7 130.5C579.7 129.9 579.3 129.1 580.0 128.6C580.7 128.1 582.5 127.0 583.3 126.8C584.1 126.5 586.4 126.8 586.5 126.6C586.6 126.4 584.6 125.7 584.2 125.0C583.9 124.3 583.7 122.3 583.7 121.3C583.8 120.3 584.4 117.5 584.6 116.7C584.8 115.9 585.3 115.4 585.1 114.8C584.9 114.2 583.4 112.7 582.8 112.1C582.2 111.5 580.8 109.9 580.0 109.8C579.2 109.7 577.3 111.3 576.4 111.6C575.5 111.9 573.5 112.2 572.7 112.1C571.9 112.0 570.5 111.2 569.9 110.7C569.3 110.2 568.2 108.9 567.6 108.4C567.0 107.9 565.2 107.4 565.1 107.0C565.0 106.6 566.2 105.5 566.7 105.2C567.2 104.9 568.2 104.4 569.0 104.5C569.8 104.6 572.0 106.0 572.7 106.1C573.5 106.2 574.3 105.1 575.0 105.2C575.7 105.3 577.5 106.3 578.2 106.6C578.9 106.9 579.9 107.5 580.5 107.9C581.1 108.3 582.6 109.3 583.3 109.8C584.0 110.3 585.3 111.6 586.0 111.6C586.7 111.6 588.2 110.1 588.8 109.8C589.4 109.5 590.5 109.1 591.1 109.3C591.7 109.5 593.1 110.7 593.8 111.6C594.5 112.5 595.7 115.4 596.6 116.2C597.5 117.0 600.1 117.7 601.2 118.1C602.4 118.5 604.2 119.2 605.8 119.4C607.4 119.6 611.9 119.5 613.9 120.0C615.9 120.5 620.1 122.4 621.9 123.0C623.6 123.6 626.3 124.8 627.9 125.0C629.5 125.2 633.1 124.5 634.9 125.0C636.6 125.5 640.1 128.7 641.9 129.0C643.6 129.3 647.3 128.0 648.9 127.4C650.5 126.8 653.6 124.8 654.9 124.0C656.1 123.2 658.3 120.5 658.9 120.6C659.5 120.7 659.9 124.1 659.5 125.0C659.1 125.9 655.6 127.5 655.9 128.0C656.2 128.5 660.8 128.3 661.9 129.0C663.0 129.7 664.0 133.0 664.9 133.4C665.8 133.8 668.5 132.8 668.9 132.0C669.3 131.2 667.6 128.5 667.9 127.4C668.2 126.3 670.5 124.0 671.5 123.4C672.5 122.9 674.6 122.5 675.5 123.0C676.4 123.5 677.8 126.4 678.9 127.4C680.0 128.5 683.9 130.5 684.3 131.4C684.7 132.3 683.1 133.7 681.9 135.0C680.7 136.3 675.7 140.5 674.9 141.9C674.1 143.3 675.8 144.7 675.5 145.9C675.2 147.1 673.1 150.7 672.3 151.3C671.5 151.9 670.2 150.2 668.9 150.5C667.6 150.8 662.9 152.8 661.9 153.9C660.9 155.0 660.9 157.5 660.9 158.9C660.9 160.3 662.0 163.2 661.9 164.9C661.8 166.7 661.0 171.2 660.3 172.9C659.5 174.7 657.1 177.5 655.9 178.9C654.7 180.3 651.8 183.4 650.9 184.5C650.0 185.6 648.9 187.0 648.9 187.9C648.9 188.8 649.8 190.7 650.9 191.9C652.0 193.1 656.0 195.9 657.9 197.3C659.8 198.7 664.3 201.7 665.9 202.9C667.5 204.1 669.5 206.2 670.9 206.9C672.3 207.6 675.8 207.8 676.9 208.5C678.0 209.2 678.8 212.3 679.9 212.9C681.0 213.5 684.0 212.3 685.9 212.9C687.8 213.5 692.8 216.7 694.9 217.9C697.0 219.1 700.9 221.1 702.8 222.5C704.7 223.9 707.9 227.6 709.8 228.9C711.7 230.2 715.8 232.2 717.8 232.9C719.8 233.7 724.0 234.3 725.8 234.9C727.5 235.5 730.5 236.7 731.8 237.9C733.0 239.2 734.5 243.5 735.8 244.9C737.0 246.3 740.0 248.3 741.8 249.3C743.5 250.3 747.9 252.1 749.8 252.9C751.7 253.7 755.0 255.7 756.8 255.9C758.5 256.1 762.4 255.2 763.8 254.9C765.2 254.6 766.8 254.1 767.9 253.5C769.0 252.9 771.9 251.0 772.9 249.9C773.9 248.8 774.9 246.3 775.5 244.9C776.1 243.5 777.0 240.7 777.9 239.0C778.8 237.3 782.3 232.7 782.9 231.6C783.5 230.5 782.6 231.6 783.0 229.9C783.4 228.2 785.6 220.9 786.4 217.9C787.1 214.9 788.4 208.9 789.0 205.9C789.6 202.9 791.4 196.9 791.6 193.9C791.8 190.9 790.6 184.7 790.4 181.9C790.2 179.2 790.2 173.9 790.0 171.9C789.8 169.9 788.4 167.7 788.4 165.9C788.4 164.2 789.5 159.8 790.0 157.9C790.5 156.0 792.0 152.5 792.4 150.9C792.8 149.3 792.1 146.2 792.9 144.9C793.7 143.7 798.3 141.8 798.9 140.9C799.5 140.0 798.5 138.7 797.9 137.9C797.3 137.2 794.3 135.8 793.9 134.9C793.5 134.0 794.4 132.3 794.9 130.9C795.4 129.5 797.3 124.7 797.9 123.9C798.5 123.1 799.5 125.0 799.9 124.3C800.3 123.5 800.4 119.8 800.9 117.9C801.4 116.0 802.9 111.4 803.5 109.0C804.1 106.6 804.7 100.6 805.5 99.0C806.3 97.4 809.1 97.1 809.9 96.4C810.7 95.7 811.3 93.9 811.9 93.6C812.5 93.3 814.4 93.6 814.9 94.0C815.4 94.4 815.0 95.8 815.5 97.0C816.0 98.2 818.2 102.2 818.9 104.0C819.6 105.8 820.5 109.0 820.9 111.0C821.3 113.0 821.0 118.5 821.9 119.9C822.8 121.3 827.3 121.1 827.9 122.3C828.5 123.5 826.5 128.1 826.9 129.5C827.3 130.9 830.0 132.6 830.9 133.9C831.8 135.2 833.3 138.2 833.9 139.9C834.5 141.7 835.4 145.8 835.9 147.9C836.4 150.0 837.8 155.0 837.9 156.9C838.0 158.8 836.7 161.3 836.9 162.9C837.1 164.5 838.8 167.9 839.5 169.9C840.2 171.9 841.4 177.5 842.3 178.9C843.1 180.3 845.1 181.1 846.3 180.9C847.5 180.7 850.4 178.2 851.9 177.5C853.4 176.8 857.0 175.1 858.3 175.5C859.5 175.9 860.4 179.5 861.9 180.9C863.4 182.3 867.9 185.5 869.9 186.9C871.9 188.3 876.6 190.0 877.5 191.9C878.4 193.8 876.6 199.4 876.9 201.9C877.1 204.4 879.0 209.0 879.5 211.9C880.0 214.8 880.2 222.4 880.9 224.9C881.6 227.4 884.9 232.0 884.9 231.9C884.9 231.8 881.0 223.9 881.0 224.0C881.0 224.1 884.0 231.0 885.0 233.0C886.0 235.0 887.9 238.5 889.0 240.0C890.1 241.5 893.0 243.2 894.0 245.0C895.0 246.8 896.6 251.2 896.6 254.0C896.6 256.8 894.0 264.8 894.0 267.0C894.0 269.2 896.1 270.9 897.0 272.0C897.9 273.1 900.5 274.9 901.0 276.0C901.5 277.1 900.5 279.5 901.0 280.9C901.5 282.3 903.6 285.7 905.0 286.9C906.4 288.1 910.4 289.9 912.0 290.5C913.6 291.1 916.9 291.3 918.0 291.9C919.1 292.4 919.9 294.5 921.0 294.9C922.1 295.3 925.7 294.2 926.9 294.9C928.1 295.6 929.6 299.2 930.9 300.5C932.1 301.8 935.3 304.0 936.9 304.9C938.5 305.8 942.1 306.5 943.9 307.3C945.6 308.1 949.4 310.6 950.9 311.3C952.4 312.1 954.9 312.4 955.9 313.3C956.9 314.2 958.9 317.8 958.9 318.9C958.9 320.0 955.4 320.9 955.5 321.9C955.6 322.9 958.5 325.5 959.9 326.9C961.3 328.3 965.5 331.1 966.9 332.9C968.3 334.6 970.0 339.3 970.9 340.9C971.8 342.5 973.4 344.4 973.9 345.9C974.4 347.4 974.4 351.0 974.9 352.9C975.4 354.8 977.3 359.4 977.9 360.9C978.5 362.4 979.2 364.5 979.9 364.9C980.6 365.3 982.8 363.5 983.5 363.9C984.2 364.3 985.7 368.6 985.9 367.9C986.1 367.1 984.6 358.9 984.9 357.9C985.1 356.9 986.9 359.0 987.9 359.9C988.9 360.8 991.6 363.9 992.9 364.9C994.1 365.9 997.0 368.0 997.9 367.9C998.8 367.8 999.3 364.0 999.9 363.9C1000.5 363.8 1002.4 365.5 1002.9 366.9C1003.4 368.3 1004.0 372.6 1004.3 374.9C1004.5 377.1 1004.3 382.9 1004.9 384.9C1005.5 386.9 1007.6 389.4 1008.9 390.9C1010.1 392.4 1014.3 396.3 1014.9 396.9C1015.5 397.5 1013.3 395.5 1013.9 396.0C1014.5 396.5 1018.3 400.1 1019.9 401.0C1021.5 401.9 1025.4 402.1 1026.9 403.0C1028.4 403.9 1030.7 406.5 1031.9 408.0C1033.2 409.5 1035.5 413.5 1036.9 415.0C1038.3 416.5 1041.6 418.5 1042.8 420.0C1044.0 421.5 1045.5 425.4 1046.8 427.0C1048.0 428.6 1051.9 431.2 1052.8 433.0C1053.7 434.8 1053.5 439.2 1054.2 441.0C1055.0 442.8 1058.3 445.3 1058.8 447.0C1059.2 448.7 1057.8 452.7 1057.8 454.9C1057.8 457.1 1058.4 462.4 1058.8 464.9C1059.2 467.4 1060.3 472.6 1060.8 474.9C1061.3 477.1 1062.3 481.1 1062.8 482.9C1063.3 484.6 1064.2 486.9 1064.8 488.9C1065.4 490.9 1067.2 496.3 1067.8 498.9C1068.4 501.5 1070.0 507.1 1069.8 509.9C1069.5 512.6 1066.7 518.0 1065.8 520.9C1064.9 523.8 1063.5 529.9 1062.8 532.9C1062.0 535.9 1060.5 542.1 1059.8 544.9C1059.0 547.6 1057.0 552.6 1056.8 554.9C1056.5 557.1 1057.9 561.0 1057.8 562.9C1057.7 564.8 1056.3 568.1 1055.8 570.0C1055.3 571.9 1054.7 576.1 1053.8 578.0C1052.9 579.9 1049.9 583.5 1048.8 585.0C1047.7 586.5 1045.5 588.6 1044.8 590.0C1044.0 591.4 1043.8 594.5 1042.8 596.0C1041.8 597.5 1037.9 600.9 1036.9 602.0C1035.9 603.1 1035.9 604.4 1034.9 605.0C1033.9 605.6 1030.3 606.0 1028.9 607.0C1027.5 608.0 1025.0 611.4 1023.9 613.0C1022.8 614.6 1020.9 618.1 1019.9 620.0C1018.9 621.9 1016.9 626.0 1015.9 628.0C1014.9 630.0 1013.0 633.8 1011.9 635.9C1010.8 638.0 1007.8 642.6 1006.9 644.9C1006.0 647.1 1005.4 652.1 1004.9 653.9C1004.4 655.6 1003.8 657.6 1002.9 658.9C1002.0 660.1 998.6 662.8 997.9 663.9C997.1 665.0 997.5 666.6 996.9 667.9C996.3 669.1 993.8 672.1 992.9 673.9C992.0 675.6 990.5 679.6 989.9 681.9C989.3 684.1 988.4 689.6 987.9 691.9C987.4 694.1 986.1 697.6 985.9 699.9C985.6 702.1 986.1 708.2 985.9 709.9C985.6 711.6 984.8 712.6 983.9 713.5C983.0 714.4 980.3 716.0 978.9 716.9C977.5 717.8 975.0 720.4 972.9 720.9C970.8 721.4 964.8 720.8 961.9 720.9C959.0 721.0 952.9 721.4 949.9 721.9C946.9 722.4 940.4 724.0 937.9 724.9C935.4 725.8 931.9 727.6 929.9 728.9C927.9 730.1 923.9 733.4 921.9 734.9C919.9 736.4 915.6 740.0 913.9 740.9C912.2 741.8 909.9 742.0 908.0 742.3C906.1 742.5 899.8 742.5 899.0 742.9C898.2 743.3 901.2 744.9 902.0 745.5C902.8 746.1 904.9 747.0 905.0 747.9C905.1 748.8 903.6 752.2 903.0 752.3C902.4 752.4 900.6 749.8 900.0 748.9C899.4 748.0 898.6 745.1 898.0 744.9C897.4 744.6 895.9 747.0 895.0 746.9C894.1 746.8 892.1 744.6 891.0 743.9C889.9 743.2 887.2 742.4 886.0 741.5C884.8 740.6 882.5 737.4 881.0 736.9C879.5 736.4 875.4 738.1 874.0 737.9C872.6 737.7 871.1 736.0 870.0 735.5C868.9 735.0 865.9 734.5 865.0 733.9C864.1 733.3 862.9 731.6 863.0 730.9C863.1 730.1 866.1 728.4 866.0 727.9C865.9 727.4 863.4 726.8 862.4 726.9C861.4 727.0 858.3 728.5 858.0 728.9C857.7 729.3 860.5 729.3 860.0 729.9C859.5 730.5 855.2 732.8 854.0 733.5C852.8 734.2 851.3 734.6 850.0 735.5C848.7 736.4 845.3 739.9 843.8 740.9C842.3 741.9 839.5 743.8 837.8 743.9C836.0 744.0 831.8 742.6 829.8 741.9C827.8 741.1 823.8 738.9 821.8 737.9C819.8 736.9 815.8 734.3 813.8 733.9C811.8 733.5 807.7 735.0 805.8 734.9C803.9 734.8 800.4 733.3 798.8 732.9C797.2 732.5 794.2 731.4 792.8 731.5C791.4 731.6 789.0 734.1 787.8 733.9C786.5 733.6 784.0 730.4 782.8 729.5C781.5 728.6 779.4 727.4 777.8 726.9C776.2 726.4 771.5 726.0 769.9 725.5C768.3 725.0 766.0 723.7 764.9 722.9C763.8 722.1 762.0 720.0 760.9 718.9C759.8 717.8 757.1 715.1 755.9 713.9C754.6 712.6 751.8 710.1 750.9 708.9C750.0 707.6 748.9 705.5 748.9 703.9C748.9 702.3 750.8 697.5 750.9 695.9C751.0 694.3 750.5 692.3 749.9 690.9C749.3 689.5 747.0 686.4 745.9 684.9C744.8 683.4 742.1 680.3 740.9 678.9C739.6 677.5 737.1 674.9 735.9 673.9C734.6 672.9 731.4 671.4 730.9 670.9C730.4 670.4 731.1 669.5 731.9 669.5C732.6 669.5 735.9 671.1 736.9 670.9C737.9 670.7 739.4 668.6 739.5 667.9C739.6 667.1 738.7 665.2 737.9 664.9C737.1 664.6 734.1 665.2 732.9 665.5C731.6 665.8 729.5 666.9 727.9 667.5C726.3 668.1 721.8 670.0 719.9 670.3C718.0 670.6 713.4 670.7 712.9 669.9C712.4 669.1 715.3 665.3 715.9 663.9C716.5 662.5 717.4 659.9 717.9 658.9C718.4 657.9 719.8 657.1 719.9 655.9C720.0 654.6 719.5 650.5 718.9 648.9C718.3 647.3 716.0 644.4 714.9 642.9C713.8 641.4 711.4 636.3 710.3 636.9C709.2 637.5 706.8 645.3 705.9 647.9C705.0 650.5 703.9 656.5 702.9 657.9C701.9 659.3 699.5 658.4 697.9 658.9C696.3 659.4 691.8 661.2 689.9 661.5C688.0 661.8 683.4 662.4 682.9 661.5C682.4 660.6 684.5 655.4 685.9 654.3C687.3 653.2 692.8 653.9 693.9 652.9C695.0 651.9 694.5 647.8 694.9 645.9C695.3 644.0 696.0 640.0 696.9 637.9C697.8 635.8 700.6 631.1 701.9 629.0C703.1 626.9 706.4 622.8 706.9 621.0C707.4 619.2 705.3 616.1 705.5 615.0C705.7 613.9 708.0 612.9 708.3 612.0C708.6 611.1 708.4 609.5 707.9 608.0C707.4 606.5 704.8 600.1 703.9 600.0C703.0 599.9 701.9 605.4 700.9 607.0C699.9 608.6 696.9 611.2 695.9 613.0C694.9 614.8 693.9 619.5 692.9 621.0C691.9 622.5 689.5 624.1 687.9 625.0C686.3 625.9 681.9 627.0 679.9 628.0C677.9 629.0 673.8 631.4 671.9 632.9C670.0 634.4 666.5 637.9 664.9 639.9C663.3 641.9 659.3 646.9 658.9 648.9C658.5 650.9 661.6 655.1 661.5 655.5C661.4 655.9 658.9 652.1 657.9 651.9C656.9 651.7 655.1 654.3 653.9 653.9C652.7 653.5 649.5 649.9 648.0 648.9C646.5 647.9 642.6 646.4 642.0 645.9C641.4 645.4 642.1 644.8 643.0 644.9C643.9 645.0 648.6 648.0 649.0 646.9C649.4 645.8 647.0 638.3 646.0 635.9C645.0 633.5 642.2 629.9 641.0 628.0C639.8 626.1 637.4 622.6 636.0 621.0C634.6 619.4 631.8 616.1 630.0 615.0C628.2 613.9 623.5 613.4 622.0 612.0C620.5 610.6 618.1 605.6 618.0 604.0C617.9 602.4 621.5 600.1 621.0 599.0C620.5 597.9 615.9 596.0 614.0 595.0C612.1 594.0 608.0 591.6 606.0 591.0C604.0 590.4 600.0 590.5 598.0 590.0C596.0 589.5 591.8 587.6 590.0 587.0C588.2 586.4 585.7 585.5 583.8 585.5C581.9 585.5 577.3 587.5 574.8 586.9C572.3 586.2 566.2 581.6 563.8 580.3C561.4 579.0 557.7 577.0 555.8 576.3C553.9 575.6 550.7 574.8 548.8 574.9C546.9 575.0 543.9 577.2 540.8 577.5C537.7 577.8 527.7 576.8 523.8 576.9C519.9 577.0 512.9 578.0 509.9 578.3C506.9 578.6 502.4 578.6 499.9 579.3C497.4 579.9 492.5 582.5 489.9 583.5C487.3 584.5 481.4 586.7 478.9 587.5C476.4 588.3 472.3 589.2 469.9 589.9C467.5 590.6 462.6 592.4 459.9 592.9C457.1 593.4 450.9 593.9 447.9 593.9C444.9 593.9 438.3 592.6 435.9 592.5C433.5 592.4 430.9 592.2 428.9 592.9C426.9 593.6 421.8 597.3 419.9 598.3C418.0 599.3 416.3 599.8 413.9 600.9C411.5 602.0 403.8 606.4 400.9 607.5C398.0 608.6 392.7 608.8 391.0 609.5C389.3 610.2 387.9 611.6 387.0 612.9C386.1 614.2 384.9 618.3 384.0 619.9C383.1 621.5 381.1 624.6 380.0 625.9C378.9 627.2 376.2 629.7 375.0 630.3C373.8 630.9 371.1 630.6 370.0 630.9C368.9 631.1 367.2 632.4 366.0 632.3C364.8 632.2 362.0 630.4 360.0 630.3C358.0 630.2 352.3 631.2 350.0 631.5C347.7 631.8 343.0 633.1 341.6 632.9C340.2 632.7 340.4 630.3 339.0 629.9C337.6 629.5 332.1 630.0 330.0 629.9C327.9 629.8 324.1 628.9 321.8 628.9C319.5 628.9 314.3 629.5 311.8 629.9C309.3 630.3 304.3 631.6 301.8 631.9C299.3 632.1 293.8 631.6 291.8 631.9C289.8 632.1 287.3 632.9 285.9 633.9C284.5 634.9 282.0 638.8 280.9 639.9C279.8 641.0 278.6 642.4 276.9 642.9C275.1 643.4 269.3 643.1 266.9 643.9C264.5 644.7 260.1 648.1 257.9 649.5C255.6 650.9 250.8 654.0 248.9 654.9C247.0 655.8 244.5 656.5 242.9 656.9C241.3 657.3 238.3 657.9 235.9 657.9C233.5 657.9 226.9 657.2 223.9 656.9C220.9 656.6 214.9 656.2 211.9 655.5C208.9 654.8 202.2 652.1 199.9 650.9C197.7 649.7 195.4 647.0 193.9 645.9C192.4 644.8 189.5 642.7 187.9 641.9C186.3 641.1 182.3 639.9 180.9 639.5C179.5 639.1 177.6 639.9 176.9 638.9C176.2 637.9 175.6 634.1 175.5 631.9C175.4 629.7 175.4 622.5 175.9 621.5C176.4 620.5 178.4 624.0 179.5 624.3C180.6 624.6 183.7 624.3 184.9 623.9C186.1 623.5 188.0 622.0 188.9 620.9C189.8 619.8 191.7 616.5 191.9 614.9C192.2 613.3 191.0 609.5 190.9 607.9C190.8 606.3 190.7 603.1 190.9 601.9C191.2 600.6 192.7 599.6 192.9 597.9C193.2 596.1 193.0 590.0 192.9 587.9C192.8 585.8 192.8 582.8 192.3 580.9C191.8 579.0 190.0 575.0 188.9 572.9C187.8 570.8 185.2 566.1 183.9 563.9C182.7 561.7 179.9 557.5 178.9 555.0C177.9 552.5 176.3 545.2 175.9 544.0C175.5 542.8 176.0 546.4 175.9 545.1Z" fill="none" stroke="#5c5c5c" stroke-width="1.42" stroke-linejoin="round"/>
<path d="M182.9 327.5C183.0 326.9 185.0 324.4 185.5 324.3C186.0 324.2 187.0 325.7 186.9 326.3C186.8 326.9 185.4 329.2 184.9 329.3C184.4 329.4 182.8 328.1 182.9 327.5Z" fill="none" stroke="#5c5c5c" stroke-width="1.42" stroke-linejoin="round"/>
<path d="M128.0 436.9C128.1 435.9 129.5 435.6 130.0 436.3C130.5 437.1 131.6 441.4 132.0 442.9C132.4 444.3 133.6 447.1 133.6 447.9C133.6 448.6 132.5 449.4 132.0 448.9C131.5 448.4 130.1 445.4 129.6 443.9C129.1 442.4 128.0 437.8 128.0 436.9Z" fill="none" stroke="#5c5c5c" stroke-width="1.42" stroke-linejoin="round"/>
<path d="M396.0 200.8C396.0 200.5 396.8 199.5 397.1 199.5C397.4 199.5 398.1 200.5 398.1 200.8C398.1 201.1 397.6 202.1 397.3 202.1C397.0 202.1 396.0 201.1 396.0 200.8Z" fill="none" stroke="#5c5c5c" stroke-width="1.42" stroke-linejoin="round"/>
<path d="M410.0 182.4C410.0 182.0 410.8 180.8 411.1 180.8C411.4 180.8 412.2 182.0 412.2 182.4C412.2 182.8 411.6 184.0 411.3 184.0C411.0 184.0 410.0 182.8 410.0 182.4Z" fill="none" stroke="#5c5c5c" stroke-width="1.42" stroke-linejoin="round"/>
<path d="M524.1 117.6C523.7 118.2 523.7 119.2 524.1 119.4C524.5 119.6 526.7 119.4 527.6 119.3C528.5 119.2 530.3 118.2 531.3 118.3C532.3 118.4 534.5 119.9 535.4 119.9C536.3 120.0 537.6 118.8 538.6 118.7C539.6 118.6 541.9 119.3 543.2 119.3C544.5 119.3 547.6 118.9 548.8 118.7C550.0 118.5 552.1 118.1 552.9 117.6C553.7 117.1 554.6 115.3 555.2 114.8C555.8 114.3 557.0 114.2 557.5 113.7C558.0 113.2 559.0 111.4 558.9 110.7C558.8 110.0 557.2 108.5 556.6 107.9C556.0 107.3 554.8 106.5 554.3 106.1C553.8 105.7 553.0 104.5 552.4 104.5C551.8 104.5 550.5 105.7 549.7 106.1C548.9 106.5 546.8 107.3 546.0 107.5C545.2 107.7 543.9 107.7 543.2 107.9C542.5 108.1 541.2 109.1 540.5 109.3C539.8 109.5 538.3 109.6 537.7 109.3C537.1 109.0 535.9 107.6 535.4 107.0C534.9 106.4 534.1 104.8 533.6 104.5C533.1 104.2 532.0 104.3 531.7 104.7C531.4 105.1 531.7 107.3 531.3 107.9C530.9 108.5 529.1 108.8 528.5 109.3C527.9 109.8 526.9 110.9 526.7 111.6C526.5 112.3 527.4 114.0 527.1 114.8C526.8 115.5 524.5 117.0 524.1 117.6Z" fill="none" stroke="#5c5c5c" stroke-width="1.42" stroke-linejoin="round"/>
<path d="M532.0 105.5C532.1 106.0 532.4 108.8 532.7 109.8C533.0 110.8 533.9 112.9 534.5 113.9C535.1 114.9 537.1 116.9 537.7 117.6C538.3 118.3 538.9 119.1 539.1 119.3" fill="none" stroke="#5c5c5c" stroke-width="1.42" stroke-linejoin="round"/>
<path d="M581.0 107.5C580.7 107.0 580.5 104.7 580.5 103.8C580.5 102.9 581.1 101.2 581.4 100.6C581.7 100.0 582.5 99.1 582.8 99.2C583.1 99.3 583.7 100.8 583.9 101.5C584.1 102.2 584.3 103.9 584.2 104.7C584.1 105.5 583.2 107.6 582.8 107.9C582.4 108.2 581.3 108.0 581.0 107.5Z" fill="none" stroke="#5c5c5c" stroke-width="1.42" stroke-linejoin="round"/>
<path d="M666.1 116.3C666.4 115.9 668.8 114.2 669.7 113.5C670.6 112.8 672.5 111.6 673.5 110.7C674.5 109.8 676.5 107.5 677.3 106.4C678.0 105.3 679.1 102.8 679.5 102.1C679.9 101.4 680.1 100.6 680.2 100.6C680.4 100.5 680.8 101.0 680.7 101.7C680.6 102.4 679.8 104.8 679.1 105.9C678.4 107.0 676.2 109.7 675.2 110.7C674.2 111.7 671.9 113.5 670.9 114.2C669.9 115.0 667.6 116.4 667.0 116.7C666.4 117.0 665.8 116.7 666.1 116.3Z" fill="none" stroke="#5c5c5c" stroke-width="1.42" stroke-linejoin="round"/>
<path d="M669.7 174.8C670.0 174.6 671.7 174.6 671.9 173.7C672.1 172.8 671.2 168.3 671.5 167.2C671.8 166.0 674.0 165.1 674.6 164.5C675.2 163.9 676.2 162.6 676.7 162.4C677.2 162.2 678.4 162.3 678.7 162.6C679.0 162.9 678.7 164.3 679.1 164.5C679.5 164.7 681.1 163.9 681.6 164.0C682.1 164.1 683.1 165.1 683.2 165.6C683.3 166.1 682.4 167.3 682.1 167.8C681.8 168.3 680.8 168.8 680.5 169.4C680.2 170.0 679.7 172.0 679.8 172.6C679.9 173.2 681.0 174.1 681.6 174.3C682.2 174.5 683.9 174.1 684.3 174.3C684.7 174.5 684.7 175.6 684.5 175.9C684.3 176.2 683.5 176.9 682.7 177.0C681.9 177.1 678.9 176.5 677.8 176.4C676.6 176.3 674.5 176.0 673.5 175.9C672.5 175.8 670.2 175.4 669.7 175.3C669.2 175.2 669.4 175.0 669.7 174.8Z" fill="none" stroke="#5c5c5c" stroke-width="1.42" stroke-linejoin="round"/>
<path d="M665.3 164.5C665.3 164.1 666.5 162.8 666.9 162.9C667.3 163.0 668.3 164.5 668.3 164.9C668.3 165.3 667.3 166.6 666.9 166.5C666.5 166.4 665.3 164.9 665.3 164.5Z" fill="none" stroke="#5c5c5c" stroke-width="1.42" stroke-linejoin="round"/>
<path d="M673.9 206.5C673.9 206.1 675.1 205.2 675.5 205.3C675.9 205.4 676.8 206.9 676.7 207.3C676.7 207.7 675.5 208.6 675.1 208.5C674.8 208.4 673.9 206.9 673.9 206.5Z" fill="none" stroke="#5c5c5c" stroke-width="1.42" stroke-linejoin="round"/>
<path d="M683.9 206.9C684.0 206.3 685.5 206.1 685.9 206.5C686.2 206.9 686.8 209.3 686.7 209.9C686.6 210.5 685.5 211.3 685.1 210.9C684.8 210.5 683.8 207.5 683.9 206.9Z" fill="none" stroke="#5c5c5c" stroke-width="1.42" stroke-linejoin="round"/>
<path d="M734.8 232.9C734.7 232.3 735.9 230.1 736.8 229.3C737.7 228.5 740.5 226.9 741.8 226.5C743.1 226.1 746.8 225.6 747.4 225.9C748.0 226.2 747.5 228.2 746.8 228.9C746.1 229.7 742.9 231.3 741.8 231.9C740.7 232.5 738.7 233.8 737.8 233.9C736.9 234.0 734.9 233.5 734.8 232.9Z" fill="none" stroke="#5c5c5c" stroke-width="1.42" stroke-linejoin="round"/>
<path d="M741.4 240.9C741.5 240.6 743.0 239.6 743.4 239.7C743.8 239.8 744.7 241.3 744.6 241.7C744.5 242.0 743.0 242.6 742.6 242.5C742.2 242.4 741.3 241.2 741.4 240.9Z" fill="none" stroke="#5c5c5c" stroke-width="1.42" stroke-linejoin="round"/>
<path d="M735.0 232.4C735.1 231.8 736.2 229.8 737.0 229.0C737.8 228.2 739.9 226.8 741.0 226.4C742.1 226.0 745.0 225.4 745.9 225.6C746.8 225.8 748.1 227.4 747.9 228.0C747.6 228.6 744.9 229.4 743.9 230.0C742.9 230.6 740.9 232.0 740.0 232.4C739.1 232.8 737.0 233.6 736.4 233.6C735.8 233.6 734.9 233.0 735.0 232.4Z" fill="none" stroke="#5c5c5c" stroke-width="1.42" stroke-linejoin="round"/>
<path d="M741.0 241.0C741.2 240.6 743.1 239.5 743.5 239.6C743.9 239.7 744.5 241.2 744.3 241.6C744.1 242.0 742.4 242.8 742.0 242.7C741.6 242.6 740.8 241.4 741.0 241.0Z" fill="none" stroke="#5c5c5c" stroke-width="1.42" stroke-linejoin="round"/>
<path d="M683.6 208.0C683.7 207.3 685.5 206.8 686.0 207.2C686.5 207.6 687.3 210.3 687.2 211.0C687.1 211.7 685.7 212.8 685.2 212.4C684.8 212.0 683.5 208.7 683.6 208.0Z" fill="none" stroke="#5c5c5c" stroke-width="1.42" stroke-linejoin="round"/>
<path d="M803.1 79.6C803.2 79.2 804.5 78.6 804.9 78.8C805.2 79.0 806.0 80.5 805.9 80.8C805.8 81.1 804.6 81.8 804.3 81.6C803.9 81.4 803.0 79.9 803.1 79.6Z" fill="none" stroke="#5c5c5c" stroke-width="1.42" stroke-linejoin="round"/>
<path d="M805.9 81.6C806.0 81.2 807.5 80.6 807.9 80.8C808.2 81.0 808.9 82.5 808.7 82.8C808.6 83.1 807.1 83.8 806.7 83.6C806.4 83.4 805.8 81.9 805.9 81.6Z" fill="none" stroke="#5c5c5c" stroke-width="1.42" stroke-linejoin="round"/>
<path d="M803.5 93.0C803.5 92.5 805.0 91.5 805.5 91.6C806.0 91.7 807.1 93.1 807.1 93.6C807.1 94.0 806.0 95.3 805.5 95.2C805.0 95.1 803.5 93.5 803.5 93.0Z" fill="none" stroke="#5c5c5c" stroke-width="1.42" stroke-linejoin="round"/>
<path d="M895.0 268.6C895.4 268.1 899.2 267.2 900.0 267.8C900.8 268.4 901.6 272.1 901.6 273.0C901.6 273.9 900.2 274.7 899.6 274.6C899.0 274.5 897.6 272.8 897.0 272.0C896.4 271.2 894.6 269.1 895.0 268.6Z" fill="none" stroke="#5c5c5c" stroke-width="1.42" stroke-linejoin="round"/>
<path d="M960.9 310.9C961.0 310.2 962.4 310.0 962.7 310.5C963.0 311.0 963.6 314.2 963.5 314.9C963.4 315.6 962.2 316.6 961.9 316.1C961.6 315.6 960.8 311.6 960.9 310.9Z" fill="none" stroke="#5c5c5c" stroke-width="1.42" stroke-linejoin="round"/>
<path d="M983.1 356.5C983.3 356.2 984.5 356.1 984.7 356.5C984.9 356.9 984.9 359.0 984.7 359.3C984.5 359.6 983.3 359.2 983.1 358.9C982.9 358.5 982.9 356.8 983.1 356.5Z" fill="none" stroke="#5c5c5c" stroke-width="1.42" stroke-linejoin="round"/>
<path d="M996.7 360.9C996.9 360.6 998.5 360.5 998.7 360.9C999.0 361.2 998.9 363.4 998.7 363.7C998.5 364.0 997.4 363.7 997.1 363.3C996.9 362.9 996.5 361.2 996.7 360.9Z" fill="none" stroke="#5c5c5c" stroke-width="1.42" stroke-linejoin="round"/>
<path d="M1009.9 390.5C1010.1 389.8 1012.6 388.6 1013.5 388.9C1014.4 389.2 1016.7 391.9 1016.9 392.9C1017.1 393.9 1015.5 396.7 1014.9 396.9C1014.3 397.1 1012.5 395.3 1011.9 394.5C1011.3 393.7 1009.7 391.2 1009.9 390.5Z" fill="none" stroke="#5c5c5c" stroke-width="1.42" stroke-linejoin="round"/>
<path d="M1010.9 389.4C1011.1 388.8 1013.2 388.4 1013.9 389.0C1014.6 389.6 1016.2 393.1 1016.3 394.0C1016.3 394.9 1014.8 396.7 1014.3 396.6C1013.8 396.5 1012.3 394.3 1011.9 393.4C1011.5 392.5 1010.6 389.9 1010.9 389.4Z" fill="none" stroke="#5c5c5c" stroke-width="1.42" stroke-linejoin="round"/>
<path d="M1058.8 419.0C1059.1 418.3 1061.6 418.0 1062.2 418.6C1062.8 419.2 1064.0 422.4 1063.8 424.0C1063.6 425.6 1061.5 429.1 1060.8 431.0C1060.0 432.9 1058.4 437.4 1057.8 439.0C1057.2 440.6 1056.2 443.3 1055.8 443.4C1055.4 443.5 1054.7 441.4 1054.8 440.0C1054.9 438.6 1056.2 434.0 1056.8 432.0C1057.4 430.0 1059.5 425.6 1059.8 424.0C1060.0 422.4 1058.5 419.7 1058.8 419.0Z" fill="none" stroke="#5c5c5c" stroke-width="1.42" stroke-linejoin="round"/>
<path d="M674.9 673.9C675.5 673.3 678.3 672.7 679.9 672.3C681.5 671.9 686.1 671.2 687.9 670.9C689.6 670.6 692.5 669.9 693.9 669.9C695.3 669.9 698.1 670.4 698.9 670.9C699.6 671.4 699.0 673.2 699.9 673.5C700.8 673.8 704.5 672.9 705.9 672.9C707.3 672.9 710.3 673.5 710.9 673.9C711.5 674.3 711.5 675.9 710.9 676.3C710.3 676.7 707.3 676.8 705.9 676.9C704.5 677.0 701.1 676.4 699.9 676.9C698.6 677.4 697.1 680.6 695.9 680.9C694.6 681.1 691.4 679.0 689.9 678.9C688.4 678.8 685.4 679.9 683.9 679.9C682.4 679.9 679.0 679.3 677.9 678.9C676.8 678.5 675.3 677.5 674.9 676.9C674.5 676.3 674.3 674.5 674.9 673.9Z" fill="none" stroke="#5c5c5c" stroke-width="1.42" stroke-linejoin="round"/>
<path d="M862.9 786.9C863.6 786.2 866.5 788.8 867.9 789.3C869.3 789.8 872.6 790.4 873.9 790.5C875.1 790.6 876.6 789.6 877.9 789.9C879.1 790.2 882.3 792.1 883.9 792.9C885.5 793.6 889.1 795.3 890.9 795.9C892.6 796.5 896.3 797.6 897.9 797.9C899.5 798.2 902.3 798.6 903.9 798.5C905.5 798.4 909.8 796.9 910.9 796.9C912.0 796.9 912.4 799.0 912.9 798.9C913.4 798.8 914.0 796.4 914.9 795.9C915.8 795.4 918.8 795.2 919.9 794.9C921.0 794.6 922.8 793.4 923.9 793.3C925.0 793.2 927.6 794.1 928.9 793.9C930.1 793.7 932.5 792.4 933.9 791.9C935.3 791.4 938.6 790.1 939.9 789.9C941.1 789.7 943.0 790.0 943.9 790.5C944.8 791.0 946.4 792.4 946.9 793.9C947.4 795.4 947.5 800.8 947.5 802.9C947.5 805.0 946.9 809.1 946.9 810.9C946.9 812.6 947.3 815.3 947.5 816.9C947.7 818.5 948.4 822.9 948.3 823.9C948.1 824.9 946.7 825.1 946.3 824.5C945.9 823.9 945.5 819.2 945.1 818.9C944.7 818.6 943.5 820.9 942.9 821.9C942.2 822.9 940.4 825.3 939.9 826.9C939.4 828.5 939.1 832.9 938.9 834.9C938.7 836.9 938.8 842.0 938.3 842.9C937.8 843.8 935.7 841.9 934.9 841.9C934.1 841.9 932.8 843.1 931.9 842.9C931.0 842.6 928.9 840.6 927.9 839.9C926.9 839.1 924.0 836.5 923.9 836.9C923.8 837.3 927.0 841.9 926.9 842.9C926.8 843.9 923.8 844.4 922.9 844.9C922.0 845.4 920.5 845.9 919.9 846.9C919.3 847.9 919.1 851.9 917.9 852.9C916.6 853.9 912.1 854.8 909.9 854.9C907.6 855.0 901.9 854.6 899.9 853.9C897.9 853.1 895.6 850.3 893.9 848.9C892.1 847.5 887.5 844.1 885.9 842.9C884.3 841.6 881.9 840.3 880.9 838.9C879.9 837.5 878.6 833.6 877.9 831.9C877.2 830.1 875.9 826.1 875.5 824.9C875.1 823.6 874.6 822.3 874.9 821.9C875.2 821.5 876.9 821.3 877.9 821.9C878.9 822.5 882.4 826.0 882.9 826.9C883.4 827.8 882.8 829.3 881.9 828.9C881.0 828.5 876.9 825.1 875.9 823.9C874.9 822.6 874.6 820.5 873.9 818.9C873.1 817.3 870.9 812.8 869.9 810.9C868.9 809.0 866.9 805.9 865.9 803.9C864.9 801.9 862.7 797.0 862.3 794.9C861.9 792.8 862.2 787.6 862.9 786.9Z" fill="none" stroke="#5c5c5c" stroke-width="1.42" stroke-linejoin="round"/>
<path d="M843.9 764.0C844.3 763.1 846.2 762.0 846.9 762.0C847.6 762.0 849.1 763.1 849.5 764.0C849.9 764.9 850.2 767.8 850.3 769.0C850.3 770.2 850.6 772.7 849.9 773.4C849.2 774.1 845.7 775.1 844.9 774.6C844.1 774.1 843.6 770.3 843.5 769.0C843.4 767.7 843.5 764.9 843.9 764.0Z" fill="none" stroke="#5c5c5c" stroke-width="1.42" stroke-linejoin="round"/>
<path d="M934.9 768.0C934.9 767.0 937.9 765.4 938.9 765.4C939.9 765.4 941.9 767.2 942.9 768.0C943.9 768.8 946.3 770.9 946.9 772.0C947.5 773.1 948.0 776.3 947.5 777.0C947.0 777.7 944.0 777.9 942.9 777.4C941.8 776.9 939.9 774.2 938.9 773.0C937.9 771.8 934.9 769.0 934.9 768.0Z" fill="none" stroke="#5c5c5c" stroke-width="1.42" stroke-linejoin="round"/>
<path d="M940.9 780.9C941.3 780.4 944.6 779.4 945.9 779.3C947.1 779.2 950.5 779.4 950.9 779.9C951.3 780.4 949.9 782.5 948.9 782.9C947.9 783.3 943.9 783.5 942.9 783.3C941.9 783.0 940.5 781.4 940.9 780.9Z" fill="none" stroke="#5c5c5c" stroke-width="1.42" stroke-linejoin="round"/>
<path d="M942.9 784.1C943.1 783.9 944.8 783.6 945.1 783.7C945.4 783.9 945.3 785.1 945.1 785.3C944.9 785.5 943.6 785.6 943.3 785.5C943.0 785.4 942.7 784.3 942.9 784.1Z" fill="none" stroke="#5c5c5c" stroke-width="1.42" stroke-linejoin="round"/>
<path d="M863.9 782.5C864.0 782.1 865.1 781.8 865.3 782.1C865.5 782.4 865.4 784.5 865.3 784.9C865.1 785.2 864.3 785.2 864.1 784.9C863.9 784.6 863.8 782.9 863.9 782.5Z" fill="none" stroke="#5c5c5c" stroke-width="1.42" stroke-linejoin="round"/>
<path d="M940.5 832.9C940.7 832.4 942.5 831.8 942.9 831.9C943.3 832.0 944.1 833.4 943.9 833.9C943.7 834.4 941.9 835.6 941.5 835.5C941.1 835.4 940.3 833.4 940.5 832.9Z" fill="none" stroke="#5c5c5c" stroke-width="1.42" stroke-linejoin="round"/>
<path d="M874.0 736.9C873.9 736.2 875.2 733.0 876.0 732.3C876.8 731.5 879.1 730.8 880.0 730.9C880.9 731.0 882.9 732.8 883.0 733.5C883.1 734.2 881.8 736.4 881.0 736.9C880.2 737.4 877.9 737.9 877.0 737.9C876.1 737.9 874.1 737.6 874.0 736.9Z" fill="none" stroke="#5c5c5c" stroke-width="1.42" stroke-linejoin="round"/>
<path d="M877.0 734.9C876.9 734.5 878.5 733.0 879.0 732.9C879.5 732.8 880.9 733.9 881.0 734.3C881.1 734.7 880.1 736.2 879.6 736.3C879.1 736.4 877.1 735.3 877.0 734.9Z" fill="none" stroke="#5c5c5c" stroke-width="1.42" stroke-linejoin="round"/>
<path d="M196.1 796.0 L196.1 789.1 L203.0 781.8 L203.0 777.6 L195.7 771.9" fill="none" stroke="#000" stroke-width="2.6" stroke-dasharray="9.25 4" stroke-dashoffset="6.05"/>
<path d="M195.7 771.9 L208.8 758.1 L211.1 756.9 L217.2 756.9 L218.7 758.1 L220.7 762.3 L223.3 763.4 L232.9 762.7" fill="none" stroke="#000" stroke-width="2.6" stroke-dasharray="9.25 4" stroke-dashoffset="8.25"/>
<path d="M232.9 762.7 L267.4 796.0 L279.6 807.8 L298.4 826.4 L311.0 845.2 L320.4 860.1 L326.6 861.7 L329.7 868.7 L346.2 886.7 L349.0 890.0" fill="none" stroke="#000" stroke-width="2.6" stroke-dasharray="9.25 4" stroke-dashoffset="0"/>
<path d="M196.1 796.0 L196.1 820.2 L200.5 837.4 L207.6 857.8 L208.4 875.0 L213.9 881.3 L213.9 890.0" fill="none" stroke="#000" stroke-width="2.6" stroke-dasharray="9.25 4" stroke-dashoffset="9.3"/>
<path d="M537.5 141.2 L546.5 141.2 L542.0 132.3Z" fill="#000" stroke="#000" stroke-width="1.6"/>
<rect x="536.9" y="138.6" width="10.2" height="2.9" fill="#000"/>
<path d="M884.3 242.8 L893.3 242.8 L888.8 233.9Z" fill="#000" stroke="#000" stroke-width="1.6"/>
<rect x="883.7" y="240.2" width="10.2" height="2.9" fill="#000"/>
<path d="M1051.3 488.7 L1060.3 488.7 L1055.8 479.8Z" fill="#000" stroke="#000" stroke-width="1.6"/>
<rect x="1050.7" y="486.1" width="10.2" height="2.9" fill="#000"/>
<path d="M1009.4 636.3 L1018.4 636.3 L1013.9 627.4Z" fill="#000" stroke="#000" stroke-width="1.6"/>
<rect x="1008.8" y="633.7" width="10.2" height="2.9" fill="#000"/>
<path d="M963.4 668.7 L972.4 668.7 L967.9 659.8Z" fill="#000" stroke="#000" stroke-width="1.6"/>
<rect x="962.8" y="666.1" width="10.2" height="2.9" fill="#000"/>
<path d="M862.9 726.7 L871.9 726.7 L867.4 717.8Z" fill="#000" stroke="#000" stroke-width="1.6"/>
<rect x="862.3" y="724.1" width="10.2" height="2.9" fill="#000"/>
<path d="M717.4 659.7 L726.4 659.7 L721.9 650.8Z" fill="#000" stroke="#000" stroke-width="1.6"/>
<rect x="716.8" y="657.1" width="10.2" height="2.9" fill="#000"/>
<path d="M192.4 589.7 L201.4 589.7 L196.9 580.8Z" fill="#000" stroke="#000" stroke-width="1.6"/>
<rect x="191.8" y="587.1" width="10.2" height="2.9" fill="#000"/>
<rect x="538.2" y="118.5" width="38.6" height="20.3" rx="3.2" fill="#fff" fill-opacity="0.8" stroke="#222" stroke-width="1.5"/>
<text transform="translate(557.50,133.00) scale(0.97,1)" font-size="11.6" text-anchor="middle" font-weight="bold">DRW</text>
<rect x="886.0" y="220.6" width="33.4" height="20.4" rx="3.2" fill="#fff" fill-opacity="0.8" stroke="#222" stroke-width="1.5"/>
<text transform="translate(902.70,235.20) scale(0.97,1)" font-size="11.6" text-anchor="middle" font-weight="bold">CNS</text>
<rect x="1052.2" y="465.9" width="34.0" height="20.0" rx="3.2" fill="#fff" fill-opacity="0.8" stroke="#222" stroke-width="1.5"/>
<text transform="translate(1069.20,480.10) scale(0.97,1)" font-size="11.6" text-anchor="middle" font-weight="bold">BNE</text>
<rect x="1010.9" y="614.0" width="32.9" height="20.0" rx="3.2" fill="#fff" fill-opacity="0.8" stroke="#222" stroke-width="1.5"/>
<text transform="translate(1027.35,628.20) scale(0.97,1)" font-size="11.6" text-anchor="middle" font-weight="bold">SYD</text>
<rect x="964.9" y="646.3" width="33.0" height="20.0" rx="3.2" fill="#fff" fill-opacity="0.8" stroke="#222" stroke-width="1.5"/>
<text transform="translate(981.40,660.50) scale(0.97,1)" font-size="11.6" text-anchor="middle" font-weight="bold">CBR</text>
<rect x="864.4" y="704.5" width="34.2" height="19.8" rx="3.2" fill="#fff" fill-opacity="0.8" stroke="#222" stroke-width="1.5"/>
<text transform="translate(881.50,718.50) scale(0.97,1)" font-size="11.6" text-anchor="middle" font-weight="bold">MEL</text>
<rect x="719.5" y="637.5" width="32.4" height="20.0" rx="3.2" fill="#fff" fill-opacity="0.8" stroke="#222" stroke-width="1.5"/>
<text transform="translate(735.70,651.70) scale(0.97,1)" font-size="11.6" text-anchor="middle" font-weight="bold">ADL</text>
<rect x="193.9" y="567.9" width="32.4" height="20.0" rx="3.2" fill="#fff" fill-opacity="0.8" stroke="#222" stroke-width="1.5"/>
<text transform="translate(210.10,582.10) scale(0.97,1)" font-size="11.6" text-anchor="middle" font-weight="bold">PER</text>
</g>
<rect x="76.2" y="66.5" width="256.8" height="58.2" rx="4" fill="#fff" fill-opacity="0.9" stroke="#3a3a3a" stroke-width="1.67"/>
<text x="81.5" y="83.6" font-size="15">Valid: 2026-04-20 00:01 UTC</text>
<text x="81.5" y="100.5" font-size="15">Flight Level: FL350 (~35000 ft)</text>
<text x="81.5" y="117.3" font-size="15">Source: GRAPHCAST ML Forecast</text>
<rect x="66.8" y="797.9" width="296.2" height="82.8" rx="3.6" fill="#fff" fill-opacity="0.9" stroke="#cbcbcb" stroke-width="1.67"/>
<circle cx="86.4" cy="809.5" r="7.35" fill="#f0e4a0"/>
<text transform="translate(110.30,813.80) scale(1.097,1)" font-size="12.2" text-anchor="start" >Instant evap (10-30, RHi &lt;70%)</text>
<circle cx="86.4" cy="829.1" r="7.35" fill="#ffa500"/>
<text transform="translate(110.30,833.50) scale(1.097,1)" font-size="12.2" text-anchor="start" >Non-persistent (30-50, RHi 70-100%)</text>
<circle cx="86.4" cy="848.7" r="7.35" fill="#ffff00"/>
<text transform="translate(110.30,853.30) scale(1.097,1)" font-size="12.2" text-anchor="start" >Short-lived (50-80, RHi 100-130%)</text>
<circle cx="86.4" cy="868.4" r="7.35" fill="#e60000"/>
<text transform="translate(110.30,872.70) scale(1.097,1)" font-size="12.2" text-anchor="start" >Persistent (80-100, RHi ≥130%)</text>
<rect x="739" y="838.7" width="346.2" height="36.2" rx="3" fill="#ffff00" fill-opacity="0.7" stroke="#333" stroke-width="1.3"/>
<text transform="translate(1081.00,854.00) scale(1.096,1)" font-size="12.2" text-anchor="end" font-style="italic">⚠ For planning purposes only.</text>
<text transform="translate(1081.00,868.80) scale(1.1,1)" font-size="12.2" text-anchor="end" font-style="italic">Consult official aviation weather (GRAFOR/ARFOR)</text>
<rect x="60.5" y="54.5" width="1042.0" height="834.0" fill="none" stroke="#000" stroke-width="1.33"/>
<text transform="translate(51.80,82.90) scale(0.89,1)" font-size="17.9" text-anchor="end" >10°S</text>
<text transform="translate(51.80,198.71) scale(0.89,1)" font-size="17.9" text-anchor="end" >15°S</text>
<text transform="translate(51.80,314.52) scale(0.89,1)" font-size="17.9" text-anchor="end" >20°S</text>
<text transform="translate(51.80,430.33) scale(0.89,1)" font-size="17.9" text-anchor="end" >25°S</text>
<text transform="translate(51.80,546.13) scale(0.89,1)" font-size="17.9" text-anchor="end" >30°S</text>
<text transform="translate(51.80,661.94) scale(0.89,1)" font-size="17.9" text-anchor="end" >35°S</text>
<text transform="translate(51.80,777.75) scale(0.89,1)" font-size="17.9" text-anchor="end" >40°S</text>
<text transform="translate(292.30,910.80) scale(0.9,1)" font-size="17.9" text-anchor="middle" >120°E</text>
<text transform="translate(523.30,910.80) scale(0.9,1)" font-size="17.9" text-anchor="middle" >130°E</text>
<text transform="translate(755.30,910.80) scale(0.9,1)" font-size="17.9" text-anchor="middle" >140°E</text>
<text transform="translate(986.30,910.80) scale(0.9,1)" font-size="17.9" text-anchor="middle" >150°E</text>
<rect x="1167.5" y="64.3" width="41" height="814.1" fill="url(#cb)" stroke="#000" stroke-width="1.33"/>
<line x1="1208.5" y1="878.4" x2="1214.6" y2="878.4" stroke="#000" stroke-width="1.33"/>
<text transform="translate(1219.90,884.90) scale(0.885,1)" font-size="17.5" text-anchor="start" >0</text>
<line x1="1208.5" y1="715.6" x2="1214.6" y2="715.6" stroke="#000" stroke-width="1.33"/>
<text transform="translate(1219.90,722.28) scale(0.885,1)" font-size="17.5" text-anchor="start" >20</text>
<line x1="1208.5" y1="552.8" x2="1214.6" y2="552.8" stroke="#000" stroke-width="1.33"/>
<text transform="translate(1219.90,559.66) scale(0.885,1)" font-size="17.5" text-anchor="start" >40</text>
<line x1="1208.5" y1="389.9" x2="1214.6" y2="389.9" stroke="#000" stroke-width="1.33"/>
<text transform="translate(1219.90,397.04) scale(0.885,1)" font-size="17.5" text-anchor="start" >60</text>
<line x1="1208.5" y1="227.1" x2="1214.6" y2="227.1" stroke="#000" stroke-width="1.33"/>
<text transform="translate(1219.90,234.42) scale(0.885,1)" font-size="17.5" text-anchor="start" >80</text>
<line x1="1208.5" y1="64.3" x2="1214.6" y2="64.3" stroke="#000" stroke-width="1.33"/>
<text transform="translate(1219.90,71.80) scale(0.885,1)" font-size="17.5" text-anchor="start" >100</text>
<text transform="translate(1283.3,472.3) rotate(90)" font-size="13.38" font-weight="bold" text-anchor="middle" xml:space="preserve">0-10 = None  |  10-30 = Instant evap  |  30-50 = Non-persist  |  50-80 = Short-lived  |  80-100 = Persistent</text>
</svg></body></html>
